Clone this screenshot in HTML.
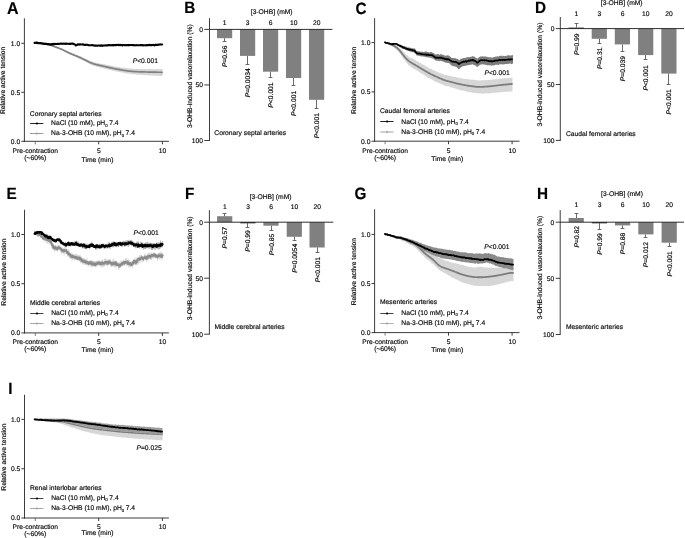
<!DOCTYPE html>
<html><head><meta charset="utf-8"><title>Figure</title>
<style>
html,body{margin:0;padding:0;background:#fff;}
body{width:685px;height:538px;overflow:hidden;}
svg{display:block;font-family:"Liberation Sans",sans-serif;text-rendering:geometricPrecision;will-change:transform;filter:blur(0.3px);}
text{stroke:#000;stroke-width:0.14px;}
text.r{stroke-width:0.16px;}
</style></head>
<body>
<svg width="685" height="538" viewBox="0 0 685 538">
<rect width="685" height="538" fill="#fff"/>
<path d="M34.60,42.99 L35.10,42.86 L35.60,42.96 L36.10,42.71 L36.60,42.98 L37.10,42.82 L37.60,42.91 L38.10,42.95 L38.60,42.82 L39.10,42.80 L39.60,43.05 L40.10,43.10 L40.60,43.14 L41.10,43.09 L41.60,43.20 L42.10,43.24 L42.60,43.17 L43.10,43.13 L43.60,43.49 L44.10,43.55 L44.60,43.54 L45.10,43.69 L45.60,43.71 L46.10,43.82 L46.60,43.73 L47.10,43.95 L47.60,43.89 L48.10,44.23 L48.60,44.12 L49.10,44.32 L49.60,44.57 L50.10,44.62 L50.60,44.84 L51.10,44.71 L51.60,44.91 L52.10,45.22 L52.60,45.38 L53.10,45.59 L53.60,45.76 L54.10,45.94 L54.60,45.84 L55.10,45.78 L55.60,46.47 L56.10,46.63 L56.60,46.78 L57.10,46.93 L57.60,46.88 L58.10,47.19 L58.60,47.40 L59.10,47.52 L59.60,47.76 L60.10,47.88 L60.60,48.11 L61.10,48.26 L61.60,48.67 L62.10,48.72 L62.60,49.10 L63.10,49.18 L63.60,49.37 L64.10,49.78 L64.60,49.94 L65.10,50.23 L65.60,50.46 L66.10,50.71 L66.60,50.82 L67.10,51.22 L67.60,51.33 L68.10,51.57 L68.60,51.74 L69.10,52.04 L69.60,52.29 L70.10,52.27 L70.60,52.65 L71.10,52.85 L71.60,53.02 L72.10,53.25 L72.60,53.40 L73.10,53.56 L73.60,53.78 L74.10,53.91 L74.60,54.09 L75.10,54.40 L75.60,54.50 L76.10,54.69 L76.60,54.94 L77.10,55.11 L77.60,55.33 L78.10,55.49 L78.60,55.75 L79.10,55.90 L79.60,56.06 L80.10,56.33 L80.60,56.26 L81.10,56.51 L81.60,56.72 L82.10,57.18 L82.60,57.50 L83.10,57.64 L83.60,57.94 L84.10,58.20 L84.60,58.34 L85.10,58.66 L85.60,58.73 L86.10,58.87 L86.60,59.23 L87.10,59.37 L87.60,59.79 L88.10,59.99 L88.60,60.01 L89.10,60.43 L89.60,60.74 L90.10,60.69 L90.60,61.09 L91.10,61.08 L91.60,61.41 L92.10,61.47 L92.60,61.88 L93.10,61.85 L93.60,62.09 L94.10,62.33 L94.60,62.33 L95.10,62.61 L95.60,62.66 L96.10,62.81 L96.60,62.67 L97.10,62.91 L97.60,63.12 L98.10,63.14 L98.60,63.25 L99.10,63.42 L99.60,63.42 L100.10,63.62 L100.60,63.67 L101.10,63.71 L101.60,63.92 L102.10,63.99 L102.60,64.02 L103.10,64.02 L103.60,64.16 L104.10,64.35 L104.60,64.34 L105.10,64.52 L105.60,64.49 L106.10,64.73 L106.60,64.74 L107.10,65.04 L107.60,64.95 L108.10,65.08 L108.60,65.28 L109.10,65.41 L109.60,65.37 L110.10,65.54 L110.60,65.71 L111.10,65.76 L111.60,65.85 L112.10,65.73 L112.60,65.90 L113.10,66.07 L113.60,66.11 L114.10,66.38 L114.60,66.46 L115.10,66.55 L115.60,66.65 L116.10,66.61 L116.60,66.55 L117.10,66.88 L117.60,66.96 L118.10,67.03 L118.60,67.01 L119.10,67.09 L119.60,67.10 L120.10,67.18 L120.60,67.41 L121.10,67.40 L121.60,67.48 L122.10,67.43 L122.60,67.66 L123.10,67.60 L123.60,67.72 L124.10,67.73 L124.60,67.97 L125.10,68.02 L125.60,68.11 L126.10,68.08 L126.60,68.21 L127.10,68.08 L127.60,68.28 L128.10,68.42 L128.60,68.33 L129.10,68.45 L129.60,68.44 L130.10,68.31 L130.60,68.44 L131.10,68.40 L131.60,68.63 L132.10,68.51 L132.60,68.69 L133.10,68.77 L133.60,68.74 L134.10,68.85 L134.60,68.72 L135.10,68.85 L135.60,68.90 L136.10,68.88 L136.60,68.79 L137.10,69.00 L137.60,68.97 L138.10,69.04 L138.60,68.82 L139.10,69.03 L139.60,68.89 L140.10,68.96 L140.60,68.94 L141.10,69.06 L141.60,68.97 L142.10,69.04 L142.60,69.09 L143.10,68.89 L143.60,69.07 L144.10,69.00 L144.60,69.10 L145.10,69.08 L145.60,68.99 L146.10,69.13 L146.60,68.94 L147.10,69.09 L147.60,69.02 L148.10,69.12 L148.60,69.08 L149.10,69.04 L149.60,69.04 L150.10,69.14 L150.60,69.11 L151.10,69.07 L151.60,69.03 L152.10,69.09 L152.60,69.16 L153.10,68.98 L153.60,69.20 L154.10,69.19 L154.60,69.19 L155.10,69.18 L155.60,69.09 L156.10,69.19 L156.60,69.13 L157.10,68.96 L157.60,69.03 L158.10,69.12 L158.60,69.15 L159.10,69.16 L159.60,69.17 L160.10,68.99 L160.60,69.10 L161.10,69.13 L161.60,69.12 L162.10,69.01 L162.60,69.16 L162.60,76.01 L162.10,75.92 L161.60,75.93 L161.10,75.89 L160.60,76.05 L160.10,75.92 L159.60,75.86 L159.10,75.98 L158.60,75.77 L158.10,75.78 L157.60,75.91 L157.10,75.72 L156.60,75.76 L156.10,75.74 L155.60,75.58 L155.10,75.58 L154.60,75.67 L154.10,75.64 L153.60,75.66 L153.10,75.54 L152.60,75.50 L152.10,75.52 L151.60,75.47 L151.10,75.54 L150.60,75.34 L150.10,75.34 L149.60,75.53 L149.10,75.39 L148.60,75.23 L148.10,75.38 L147.60,75.14 L147.10,75.12 L146.60,75.13 L146.10,75.30 L145.60,75.24 L145.10,75.21 L144.60,75.21 L144.10,74.98 L143.60,74.94 L143.10,75.08 L142.60,75.06 L142.10,74.84 L141.60,74.83 L141.10,74.95 L140.60,74.79 L140.10,74.70 L139.60,74.77 L139.10,74.76 L138.60,74.74 L138.10,74.61 L137.60,74.65 L137.10,74.76 L136.60,74.67 L136.10,74.59 L135.60,74.43 L135.10,74.36 L134.60,74.56 L134.10,74.41 L133.60,74.14 L133.10,74.45 L132.60,74.13 L132.10,73.98 L131.60,74.07 L131.10,73.89 L130.60,73.79 L130.10,74.06 L129.60,73.87 L129.10,73.70 L128.60,73.53 L128.10,73.48 L127.60,73.44 L127.10,73.45 L126.60,73.45 L126.10,73.49 L125.60,73.16 L125.10,73.16 L124.60,73.00 L124.10,72.88 L123.60,72.79 L123.10,72.74 L122.60,72.56 L122.10,72.43 L121.60,72.46 L121.10,72.44 L120.60,72.19 L120.10,72.03 L119.60,71.99 L119.10,71.94 L118.60,71.83 L118.10,71.77 L117.60,71.73 L117.10,71.52 L116.60,71.44 L116.10,71.28 L115.60,71.48 L115.10,71.09 L114.60,71.09 L114.10,70.84 L113.60,70.75 L113.10,70.83 L112.60,70.66 L112.10,70.38 L111.60,70.28 L111.10,70.14 L110.60,70.02 L110.10,69.86 L109.60,69.86 L109.10,69.82 L108.60,69.72 L108.10,69.66 L107.60,69.47 L107.10,69.33 L106.60,69.20 L106.10,68.98 L105.60,68.94 L105.10,68.75 L104.60,68.61 L104.10,68.47 L103.60,68.43 L103.10,68.20 L102.60,68.13 L102.10,68.14 L101.60,67.96 L101.10,67.84 L100.60,67.62 L100.10,67.60 L99.60,67.46 L99.10,67.33 L98.60,67.15 L98.10,67.12 L97.60,66.93 L97.10,66.77 L96.60,66.58 L96.10,66.43 L95.60,66.27 L95.10,66.10 L94.60,66.01 L94.10,65.95 L93.60,65.63 L93.10,65.62 L92.60,65.22 L92.10,65.13 L91.60,65.02 L91.10,64.63 L90.60,64.42 L90.10,64.15 L89.60,64.17 L89.10,63.71 L88.60,63.55 L88.10,63.27 L87.60,62.96 L87.10,62.60 L86.60,62.43 L86.10,62.19 L85.60,61.91 L85.10,61.55 L84.60,61.31 L84.10,61.03 L83.60,60.84 L83.10,60.59 L82.60,60.46 L82.10,59.96 L81.60,59.81 L81.10,59.71 L80.60,59.17 L80.10,58.95 L79.60,58.74 L79.10,58.55 L78.60,58.30 L78.10,58.05 L77.60,57.85 L77.10,57.70 L76.60,57.38 L76.10,57.31 L75.60,56.83 L75.10,56.66 L74.60,56.47 L74.10,56.33 L73.60,55.99 L73.10,55.84 L72.60,55.60 L72.10,55.32 L71.60,55.18 L71.10,54.91 L70.60,54.68 L70.10,54.45 L69.60,54.15 L69.10,54.01 L68.60,53.78 L68.10,53.48 L67.60,53.21 L67.10,53.05 L66.60,52.97 L66.10,52.37 L65.60,52.33 L65.10,51.95 L64.60,51.67 L64.10,51.32 L63.60,51.04 L63.10,50.85 L62.60,50.50 L62.10,50.26 L61.60,50.11 L61.10,49.85 L60.60,49.58 L60.10,49.36 L59.60,49.22 L59.10,48.90 L58.60,48.73 L58.10,48.80 L57.60,48.33 L57.10,48.12 L56.60,48.02 L56.10,47.70 L55.60,47.54 L55.10,47.31 L54.60,47.38 L54.10,47.02 L53.60,46.72 L53.10,46.53 L52.60,46.55 L52.10,46.16 L51.60,46.08 L51.10,46.13 L50.60,45.66 L50.10,45.62 L49.60,45.40 L49.10,45.27 L48.60,45.33 L48.10,44.99 L47.60,45.15 L47.10,45.00 L46.60,44.74 L46.10,44.64 L45.60,44.38 L45.10,44.36 L44.60,44.20 L44.10,44.14 L43.60,44.01 L43.10,43.98 L42.60,43.93 L42.10,44.00 L41.60,43.89 L41.10,43.64 L40.60,43.47 L40.10,43.57 L39.60,43.36 L39.10,43.29 L38.60,43.44 L38.10,43.24 L37.60,43.28 L37.10,43.11 L36.60,43.19 L36.10,43.09 L35.60,43.08 L35.10,43.17 L34.60,43.19Z" fill="#d6d6d6" stroke="none"/>
<polyline points="34.60,43.00 35.10,43.01 35.60,43.02 36.10,43.03 36.60,43.04 37.10,43.05 37.60,43.06 38.10,43.09 38.60,43.12 39.10,43.15 39.60,43.19 40.10,43.24 40.60,43.29 41.10,43.36 41.60,43.42 42.10,43.49 42.60,43.57 43.10,43.66 43.60,43.75 44.10,43.84 44.60,43.93 45.10,44.02 45.60,44.11 46.10,44.21 46.60,44.30 47.10,44.39 47.60,44.48 48.10,44.59 48.60,44.70 49.10,44.82 49.60,44.95 50.10,45.08 50.60,45.23 51.10,45.38 51.60,45.54 52.10,45.70 52.60,45.88 53.10,46.06 53.60,46.24 54.10,46.43 54.60,46.62 55.10,46.80 55.60,46.99 56.10,47.17 56.60,47.35 57.10,47.53 57.60,47.71 58.10,47.89 58.60,48.08 59.10,48.27 59.60,48.47 60.10,48.68 60.60,48.89 61.10,49.11 61.60,49.33 62.10,49.56 62.60,49.80 63.10,50.04 63.60,50.29 64.10,50.54 64.60,50.79 65.10,51.04 65.60,51.30 66.10,51.55 66.60,51.79 67.10,52.03 67.60,52.27 68.10,52.50 68.60,52.73 69.10,52.96 69.60,53.18 70.10,53.40 70.60,53.61 71.10,53.82 71.60,54.03 72.10,54.23 72.60,54.43 73.10,54.64 73.60,54.84 74.10,55.05 74.60,55.25 75.10,55.46 75.60,55.67 76.10,55.88 76.60,56.09 77.10,56.30 77.60,56.51 78.10,56.72 78.60,56.94 79.10,57.16 79.60,57.38 80.10,57.61 80.60,57.84 81.10,58.07 81.60,58.30 82.10,58.54 82.60,58.78 83.10,59.03 83.60,59.28 84.10,59.53 84.60,59.78 85.10,60.03 85.60,60.28 86.10,60.53 86.60,60.78 87.10,61.03 87.60,61.28 88.10,61.53 88.60,61.77 89.10,62.01 89.60,62.23 90.10,62.46 90.60,62.67 91.10,62.88 91.60,63.08 92.10,63.28 92.60,63.46 93.10,63.65 93.60,63.82 94.10,63.97 94.60,64.12 95.10,64.26 95.60,64.40 96.10,64.53 96.60,64.66 97.10,64.78 97.60,64.90 98.10,65.01 98.60,65.13 99.10,65.24 99.60,65.34 100.10,65.45 100.60,65.57 101.10,65.68 101.60,65.79 102.10,65.91 102.60,66.02 103.10,66.14 103.60,66.26 104.10,66.37 104.60,66.49 105.10,66.60 105.60,66.71 106.10,66.82 106.60,66.93 107.10,67.04 107.60,67.15 108.10,67.26 108.60,67.37 109.10,67.47 109.60,67.58 110.10,67.69 110.60,67.80 111.10,67.91 111.60,68.03 112.10,68.14 112.60,68.25 113.10,68.36 113.60,68.46 114.10,68.57 114.60,68.67 115.10,68.77 115.60,68.87 116.10,68.96 116.60,69.05 117.10,69.14 117.60,69.23 118.10,69.32 118.60,69.40 119.10,69.49 119.60,69.58 120.10,69.67 120.60,69.76 121.10,69.85 121.60,69.94 122.10,70.04 122.60,70.13 123.10,70.22 123.60,70.31 124.10,70.39 124.60,70.48 125.10,70.56 125.60,70.63 126.10,70.71 126.60,70.78 127.10,70.85 127.60,70.92 128.10,70.98 128.60,71.04 129.10,71.09 129.60,71.15 130.10,71.20 130.60,71.25 131.10,71.29 131.60,71.34 132.10,71.38 132.60,71.42 133.10,71.46 133.60,71.50 134.10,71.53 134.60,71.57 135.10,71.60 135.60,71.63 136.10,71.66 136.60,71.69 137.10,71.72 137.60,71.75 138.10,71.77 138.60,71.79 139.10,71.81 139.60,71.83 140.10,71.85 140.60,71.86 141.10,71.88 141.60,71.89 142.10,71.90 142.60,71.91 143.10,71.93 143.60,71.94 144.10,71.95 144.60,71.96 145.10,71.98 145.60,71.99 146.10,72.00 146.60,72.01 147.10,72.02 147.60,72.03 148.10,72.05 148.60,72.06 149.10,72.07 149.60,72.08 150.10,72.09 150.60,72.10 151.10,72.11 151.60,72.12 152.10,72.14 152.60,72.15 153.10,72.16 153.60,72.17 154.10,72.18 154.60,72.19 155.10,72.19 155.60,72.20 156.10,72.21 156.60,72.22 157.10,72.23 157.60,72.24 158.10,72.24 158.60,72.25 159.10,72.26 159.60,72.26 160.10,72.27 160.60,72.28 161.10,72.28 161.60,72.29 162.10,72.30" fill="none" stroke="#808080" stroke-width="1.7" stroke-linejoin="round" stroke-linecap="round" />
<polyline points="34.60,42.86 35.10,42.84 35.60,43.04 36.10,42.66 36.60,42.90 37.10,42.64 37.60,43.09 38.10,43.03 38.60,43.21 39.10,43.04 39.60,43.19 40.10,43.16 40.60,43.16 41.10,43.33 41.60,43.22 42.10,43.39 42.60,43.58 43.10,43.57 43.60,43.58 44.10,43.95 44.60,43.76 45.10,43.74 45.60,43.87 46.10,43.84 46.60,43.90 47.10,43.95 47.60,44.28 48.10,44.09 48.60,44.15 49.10,44.26 49.60,44.47 50.10,44.25 50.60,44.21 51.10,44.55 51.60,44.05 52.10,44.15 52.60,44.24 53.10,44.40 53.60,43.98 54.10,43.77 54.60,44.11 55.10,43.93 55.60,43.92 56.10,44.00 56.60,43.94 57.10,43.92 57.60,43.81 58.10,43.99 58.60,43.99 59.10,43.79 59.60,43.70 60.10,43.82 60.60,43.76 61.10,43.58 61.60,43.64 62.10,43.83 62.60,43.69 63.10,43.66 63.60,43.73 64.10,43.70 64.60,43.70 65.10,43.47 65.60,43.91 66.10,43.72 66.60,43.59 67.10,43.82 67.60,43.74 68.10,43.70 68.60,43.83 69.10,43.97 69.60,43.77 70.10,43.89 70.60,43.96 71.10,43.58 71.60,43.64 72.10,43.79 72.60,43.50 73.10,43.73 73.60,44.07 74.10,44.20 74.60,44.35 75.10,44.45 75.60,45.36 76.10,45.41 76.60,45.17 77.10,44.87 77.60,44.39 78.10,44.39 78.60,44.39 79.10,44.74 79.60,44.38 80.10,44.43 80.60,44.40 81.10,44.47 81.60,44.50 82.10,44.52 82.60,44.38 83.10,44.20 83.60,44.64 84.10,44.70 84.60,44.86 85.10,44.74 85.60,44.72 86.10,44.89 86.60,44.70 87.10,44.80 87.60,44.85 88.10,45.05 88.60,45.31 89.10,45.20 89.60,45.29 90.10,45.22 90.60,45.27 91.10,45.23 91.60,45.28 92.10,45.05 92.60,45.22 93.10,45.23 93.60,45.51 94.10,45.51 94.60,45.59 95.10,45.66 95.60,45.46 96.10,45.65 96.60,45.78 97.10,45.57 97.60,45.72 98.10,45.59 98.60,45.44 99.10,45.67 99.60,45.58 100.10,45.71 100.60,45.62 101.10,45.69 101.60,45.37 102.10,45.85 102.60,45.74 103.10,45.52 103.60,45.43 104.10,45.51 104.60,45.57 105.10,45.52 105.60,45.49 106.10,45.18 106.60,45.26 107.10,45.54 107.60,45.38 108.10,45.15 108.60,45.20 109.10,45.11 109.60,45.14 110.10,45.38 110.60,45.19 111.10,45.33 111.60,45.19 112.10,44.96 112.60,45.04 113.10,45.38 113.60,44.98 114.10,44.93 114.60,45.18 115.10,45.02 115.60,45.00 116.10,45.19 116.60,44.80 117.10,45.07 117.60,44.90 118.10,44.86 118.60,44.94 119.10,45.19 119.60,45.04 120.10,44.84 120.60,44.93 121.10,45.26 121.60,45.21 122.10,44.95 122.60,45.39 123.10,45.06 123.60,44.96 124.10,45.10 124.60,45.24 125.10,45.32 125.60,45.26 126.10,45.09 126.60,45.08 127.10,44.97 127.60,45.15 128.10,45.09 128.60,45.20 129.10,45.02 129.60,45.12 130.10,45.08 130.60,45.05 131.10,45.05 131.60,45.07 132.10,45.05 132.60,45.27 133.10,45.21 133.60,45.04 134.10,45.26 134.60,45.24 135.10,45.38 135.60,45.18 136.10,45.17 136.60,45.12 137.10,45.22 137.60,45.26 138.10,45.22 138.60,45.17 139.10,45.27 139.60,45.21 140.10,45.23 140.60,45.09 141.10,45.23 141.60,45.08 142.10,45.10 142.60,45.22 143.10,45.46 143.60,45.32 144.10,45.20 144.60,45.18 145.10,45.32 145.60,45.37 146.10,45.35 146.60,45.16 147.10,45.20 147.60,45.12 148.10,45.12 148.60,45.04 149.10,45.10 149.60,44.86 150.10,44.96 150.60,45.15 151.10,44.97 151.60,45.14 152.10,44.91 152.60,45.01 153.10,45.09 153.60,44.90 154.10,44.93 154.60,45.31 155.10,44.91 155.60,44.86 156.10,44.84 156.60,44.87 157.10,44.82 157.60,44.91 158.10,44.84 158.60,44.65 159.10,44.62 159.60,44.45 160.10,44.40 160.60,44.45 161.10,44.59 161.60,44.47 162.10,44.51" fill="none" stroke="#000" stroke-width="2.1" stroke-linejoin="round" stroke-linecap="round" />
<path d="M385.00,42.42 L385.50,42.51 L386.00,42.37 L386.50,42.39 L387.00,42.49 L387.50,42.76 L388.00,42.47 L388.50,42.93 L389.00,42.67 L389.50,43.02 L390.00,43.31 L390.50,43.36 L391.00,43.55 L391.50,43.57 L392.00,43.74 L392.50,43.86 L393.00,44.09 L393.50,44.17 L394.00,44.41 L394.50,44.59 L395.00,44.73 L395.50,45.07 L396.00,45.43 L396.50,45.12 L397.00,45.99 L397.50,46.21 L398.00,46.28 L398.50,46.91 L399.00,47.09 L399.50,47.94 L400.00,48.27 L400.50,48.82 L401.00,49.19 L401.50,49.64 L402.00,50.12 L402.50,50.67 L403.00,51.07 L403.50,52.06 L404.00,52.36 L404.50,52.88 L405.00,53.64 L405.50,53.74 L406.00,54.54 L406.50,54.68 L407.00,55.29 L407.50,55.38 L408.00,56.09 L408.50,56.63 L409.00,56.61 L409.50,57.14 L410.00,57.50 L410.50,57.83 L411.00,57.92 L411.50,58.04 L412.00,58.31 L412.50,58.35 L413.00,58.58 L413.50,59.23 L414.00,59.14 L414.50,59.47 L415.00,59.89 L415.50,60.08 L416.00,60.60 L416.50,60.95 L417.00,61.23 L417.50,61.40 L418.00,61.64 L418.50,61.56 L419.00,62.32 L419.50,62.74 L420.00,62.94 L420.50,62.79 L421.00,63.29 L421.50,63.81 L422.00,64.09 L422.50,64.44 L423.00,64.09 L423.50,64.95 L424.00,65.34 L424.50,64.88 L425.00,65.69 L425.50,66.27 L426.00,66.32 L426.50,66.36 L427.00,67.06 L427.50,67.12 L428.00,67.39 L428.50,67.79 L429.00,68.21 L429.50,68.48 L430.00,68.55 L430.50,69.02 L431.00,68.98 L431.50,68.72 L432.00,69.51 L432.50,69.98 L433.00,70.18 L433.50,70.02 L434.00,70.52 L434.50,70.61 L435.00,70.76 L435.50,70.92 L436.00,71.58 L436.50,71.57 L437.00,71.75 L437.50,71.94 L438.00,71.87 L438.50,72.65 L439.00,72.78 L439.50,72.67 L440.00,72.99 L440.50,73.12 L441.00,73.55 L441.50,73.94 L442.00,73.73 L442.50,73.65 L443.00,73.95 L443.50,74.57 L444.00,74.81 L444.50,74.93 L445.00,75.06 L445.50,74.75 L446.00,75.12 L446.50,74.86 L447.00,74.94 L447.50,75.26 L448.00,75.67 L448.50,75.64 L449.00,75.36 L449.50,75.84 L450.00,76.05 L450.50,76.05 L451.00,75.84 L451.50,76.16 L452.00,76.58 L452.50,76.66 L453.00,76.37 L453.50,76.69 L454.00,76.83 L454.50,76.76 L455.00,76.98 L455.50,76.74 L456.00,77.37 L456.50,77.45 L457.00,77.10 L457.50,77.79 L458.00,77.74 L458.50,77.86 L459.00,77.75 L459.50,78.11 L460.00,78.06 L460.50,78.32 L461.00,77.91 L461.50,78.43 L462.00,78.38 L462.50,78.17 L463.00,78.65 L463.50,78.63 L464.00,78.90 L464.50,79.05 L465.00,78.84 L465.50,78.95 L466.00,79.04 L466.50,78.56 L467.00,79.24 L467.50,79.31 L468.00,79.06 L468.50,79.61 L469.00,79.11 L469.50,79.65 L470.00,79.41 L470.50,79.44 L471.00,79.83 L471.50,79.85 L472.00,79.39 L472.50,79.72 L473.00,79.61 L473.50,79.63 L474.00,79.97 L474.50,79.63 L475.00,80.31 L475.50,80.16 L476.00,80.28 L476.50,80.25 L477.00,80.37 L477.50,80.47 L478.00,80.31 L478.50,80.49 L479.00,80.54 L479.50,80.51 L480.00,80.43 L480.50,80.42 L481.00,80.41 L481.50,79.96 L482.00,80.23 L482.50,80.16 L483.00,80.14 L483.50,80.31 L484.00,80.17 L484.50,80.23 L485.00,79.90 L485.50,80.32 L486.00,79.80 L486.50,79.96 L487.00,80.19 L487.50,80.11 L488.00,79.99 L488.50,80.07 L489.00,79.72 L489.50,80.02 L490.00,79.90 L490.50,79.67 L491.00,79.56 L491.50,79.76 L492.00,79.58 L492.50,79.50 L493.00,79.64 L493.50,79.57 L494.00,79.27 L494.50,79.52 L495.00,79.34 L495.50,79.20 L496.00,79.18 L496.50,79.22 L497.00,78.68 L497.50,78.85 L498.00,79.06 L498.50,78.83 L499.00,78.44 L499.50,78.76 L500.00,78.35 L500.50,78.66 L501.00,78.79 L501.50,78.56 L502.00,78.25 L502.50,78.26 L503.00,78.29 L503.50,78.54 L504.00,78.37 L504.50,78.10 L505.00,78.37 L505.50,78.37 L506.00,78.14 L506.50,78.28 L507.00,78.21 L507.50,77.92 L508.00,77.72 L508.50,78.09 L509.00,78.01 L509.50,77.91 L510.00,77.99 L510.50,77.92 L511.00,77.70 L511.50,77.66 L512.00,77.72 L512.50,77.50 L512.50,91.27 L512.00,91.45 L511.50,91.66 L511.00,91.38 L510.50,91.34 L510.00,91.61 L509.50,91.57 L509.00,91.51 L508.50,91.87 L508.00,91.55 L507.50,91.53 L507.00,92.37 L506.50,91.78 L506.00,91.72 L505.50,91.88 L505.00,91.77 L504.50,91.72 L504.00,92.22 L503.50,91.78 L503.00,92.14 L502.50,92.00 L502.00,92.24 L501.50,92.14 L501.00,92.04 L500.50,92.43 L500.00,92.37 L499.50,92.62 L499.00,92.15 L498.50,92.46 L498.00,92.77 L497.50,92.54 L497.00,92.47 L496.50,92.79 L496.00,92.43 L495.50,92.64 L495.00,93.12 L494.50,93.00 L494.00,92.80 L493.50,92.86 L493.00,92.72 L492.50,92.91 L492.00,92.80 L491.50,93.18 L491.00,92.93 L490.50,92.92 L490.00,93.21 L489.50,93.76 L489.00,93.08 L488.50,93.81 L488.00,93.34 L487.50,93.42 L487.00,93.34 L486.50,93.46 L486.00,93.45 L485.50,93.35 L485.00,93.40 L484.50,93.26 L484.00,93.38 L483.50,93.65 L483.00,93.73 L482.50,94.06 L482.00,93.51 L481.50,93.32 L481.00,93.60 L480.50,93.36 L480.00,93.61 L479.50,93.66 L479.00,93.31 L478.50,93.28 L478.00,93.20 L477.50,93.40 L477.00,93.33 L476.50,93.09 L476.00,93.08 L475.50,92.92 L475.00,92.96 L474.50,92.94 L474.00,92.70 L473.50,92.78 L473.00,92.74 L472.50,92.76 L472.00,92.58 L471.50,92.47 L471.00,92.14 L470.50,92.19 L470.00,92.44 L469.50,92.02 L469.00,92.02 L468.50,91.77 L468.00,91.64 L467.50,91.55 L467.00,92.08 L466.50,91.53 L466.00,91.33 L465.50,91.00 L465.00,90.96 L464.50,90.80 L464.00,90.87 L463.50,90.53 L463.00,90.65 L462.50,90.30 L462.00,90.35 L461.50,90.75 L461.00,90.43 L460.50,89.92 L460.00,90.05 L459.50,90.16 L459.00,89.61 L458.50,89.38 L458.00,89.38 L457.50,89.16 L457.00,89.14 L456.50,88.82 L456.00,89.17 L455.50,88.54 L455.00,88.40 L454.50,88.17 L454.00,88.21 L453.50,87.98 L453.00,87.84 L452.50,87.83 L452.00,87.55 L451.50,87.39 L451.00,87.17 L450.50,87.16 L450.00,87.06 L449.50,86.84 L449.00,86.41 L448.50,86.35 L448.00,86.17 L447.50,86.04 L447.00,86.23 L446.50,86.10 L446.00,85.89 L445.50,85.97 L445.00,85.64 L444.50,85.57 L444.00,85.25 L443.50,85.00 L443.00,84.87 L442.50,84.54 L442.00,84.30 L441.50,84.04 L441.00,84.08 L440.50,83.59 L440.00,83.75 L439.50,83.37 L439.00,82.96 L438.50,82.78 L438.00,82.78 L437.50,82.18 L437.00,82.36 L436.50,82.13 L436.00,81.76 L435.50,81.47 L435.00,81.17 L434.50,81.15 L434.00,80.76 L433.50,80.69 L433.00,80.18 L432.50,79.96 L432.00,79.57 L431.50,79.58 L431.00,79.06 L430.50,79.16 L430.00,78.48 L429.50,78.21 L429.00,78.24 L428.50,78.04 L428.00,77.74 L427.50,77.81 L427.00,76.90 L426.50,76.51 L426.00,76.54 L425.50,76.07 L425.00,75.83 L424.50,75.32 L424.00,74.88 L423.50,74.58 L423.00,74.34 L422.50,74.08 L422.00,73.81 L421.50,73.37 L421.00,73.06 L420.50,73.45 L420.00,72.48 L419.50,72.33 L419.00,71.86 L418.50,71.53 L418.00,71.30 L417.50,70.82 L417.00,70.59 L416.50,70.38 L416.00,69.94 L415.50,69.85 L415.00,69.48 L414.50,69.37 L414.00,69.00 L413.50,68.49 L413.00,68.14 L412.50,67.89 L412.00,67.70 L411.50,67.07 L411.00,66.82 L410.50,66.65 L410.00,66.10 L409.50,65.53 L409.00,65.54 L408.50,64.91 L408.00,64.67 L407.50,63.82 L407.00,63.26 L406.50,62.92 L406.00,62.12 L405.50,61.53 L405.00,60.84 L404.50,60.05 L404.00,59.59 L403.50,58.79 L403.00,58.59 L402.50,57.27 L402.00,56.43 L401.50,56.23 L401.00,55.04 L400.50,54.54 L400.00,53.63 L399.50,53.16 L399.00,52.23 L398.50,51.79 L398.00,51.17 L397.50,50.38 L397.00,50.07 L396.50,49.42 L396.00,49.24 L395.50,48.84 L395.00,48.05 L394.50,47.97 L394.00,47.53 L393.50,46.98 L393.00,46.63 L392.50,46.52 L392.00,46.37 L391.50,46.24 L391.00,45.56 L390.50,45.36 L390.00,44.92 L389.50,44.78 L389.00,44.90 L388.50,44.28 L388.00,44.13 L387.50,43.68 L387.00,43.47 L386.50,43.30 L386.00,43.01 L385.50,42.82 L385.00,42.65Z" fill="#d6d6d6" stroke="none"/>
<polyline points="385.00,42.50 385.50,42.65 386.00,42.80 386.50,42.95 387.00,43.10 387.50,43.25 388.00,43.42 388.50,43.60 389.00,43.78 389.50,43.96 390.00,44.15 390.50,44.35 391.00,44.54 391.50,44.75 392.00,44.96 392.50,45.17 393.00,45.39 393.50,45.63 394.00,45.89 394.50,46.18 395.00,46.48 395.50,46.80 396.00,47.14 396.50,47.52 397.00,47.93 397.50,48.36 398.00,48.82 398.50,49.31 399.00,49.82 399.50,50.37 400.00,50.95 400.50,51.56 401.00,52.18 401.50,52.82 402.00,53.46 402.50,54.10 403.00,54.74 403.50,55.37 404.00,55.99 404.50,56.61 405.00,57.21 405.50,57.79 406.00,58.34 406.50,58.87 407.00,59.37 407.50,59.85 408.00,60.29 408.50,60.71 409.00,61.11 409.50,61.48 410.00,61.84 410.50,62.19 411.00,62.52 411.50,62.83 412.00,63.13 412.50,63.41 413.00,63.70 413.50,63.98 414.00,64.27 414.50,64.56 415.00,64.85 415.50,65.14 416.00,65.44 416.50,65.73 417.00,66.03 417.50,66.32 418.00,66.62 418.50,66.92 419.00,67.22 419.50,67.52 420.00,67.82 420.50,68.12 421.00,68.42 421.50,68.72 422.00,69.02 422.50,69.32 423.00,69.62 423.50,69.92 424.00,70.22 424.50,70.52 425.00,70.82 425.50,71.12 426.00,71.42 426.50,71.72 427.00,72.01 427.50,72.30 428.00,72.58 428.50,72.86 429.00,73.13 429.50,73.40 430.00,73.67 430.50,73.93 431.00,74.19 431.50,74.44 432.00,74.68 432.50,74.93 433.00,75.16 433.50,75.40 434.00,75.63 434.50,75.85 435.00,76.08 435.50,76.30 436.00,76.53 436.50,76.75 437.00,76.98 437.50,77.20 438.00,77.43 438.50,77.65 439.00,77.87 439.50,78.10 440.00,78.32 440.50,78.55 441.00,78.78 441.50,79.00 442.00,79.22 442.50,79.43 443.00,79.63 443.50,79.82 444.00,80.00 444.50,80.17 445.00,80.33 445.50,80.48 446.00,80.63 446.50,80.77 447.00,80.91 447.50,81.04 448.00,81.16 448.50,81.28 449.00,81.40 449.50,81.52 450.00,81.64 450.50,81.77 451.00,81.90 451.50,82.04 452.00,82.18 452.50,82.32 453.00,82.47 453.50,82.61 454.00,82.75 454.50,82.89 455.00,83.02 455.50,83.15 456.00,83.28 456.50,83.40 457.00,83.52 457.50,83.64 458.00,83.75 458.50,83.86 459.00,83.96 459.50,84.07 460.00,84.17 460.50,84.26 461.00,84.36 461.50,84.46 462.00,84.56 462.50,84.66 463.00,84.76 463.50,84.85 464.00,84.95 464.50,85.05 465.00,85.14 465.50,85.23 466.00,85.32 466.50,85.41 467.00,85.49 467.50,85.58 468.00,85.66 468.50,85.74 469.00,85.81 469.50,85.89 470.00,85.96 470.50,86.03 471.00,86.10 471.50,86.17 472.00,86.24 472.50,86.30 473.00,86.37 473.50,86.44 474.00,86.51 474.50,86.57 475.00,86.64 475.50,86.70 476.00,86.75 476.50,86.80 477.00,86.84 477.50,86.87 478.00,86.90 478.50,86.92 479.00,86.93 479.50,86.94 480.00,86.94 480.50,86.93 481.00,86.92 481.50,86.90 482.00,86.88 482.50,86.84 483.00,86.81 483.50,86.78 484.00,86.75 484.50,86.72 485.00,86.69 485.50,86.66 486.00,86.62 486.50,86.59 487.00,86.56 487.50,86.52 488.00,86.48 488.50,86.44 489.00,86.40 489.50,86.35 490.00,86.30 490.50,86.25 491.00,86.20 491.50,86.15 492.00,86.09 492.50,86.03 493.00,85.97 493.50,85.91 494.00,85.85 494.50,85.78 495.00,85.72 495.50,85.66 496.00,85.59 496.50,85.53 497.00,85.47 497.50,85.40 498.00,85.34 498.50,85.28 499.00,85.22 499.50,85.17 500.00,85.11 500.50,85.05 501.00,85.00 501.50,84.94 502.00,84.89 502.50,84.84 503.00,84.79 503.50,84.74 504.00,84.69 504.50,84.64 505.00,84.60 505.50,84.55 506.00,84.50 506.50,84.45 507.00,84.41 507.50,84.36 508.00,84.31 508.50,84.27 509.00,84.22 509.50,84.17 510.00,84.13 510.50,84.08 511.00,84.03 511.50,83.98 512.00,83.94" fill="none" stroke="#7d7d7d" stroke-width="1.8" stroke-linejoin="round" stroke-linecap="round" />
<path d="M385.00,42.17 L385.50,42.13 L386.00,42.26 L386.50,42.64 L387.00,42.39 L387.50,42.60 L388.00,42.91 L388.50,43.09 L389.00,43.21 L389.50,42.52 L390.00,42.91 L390.50,43.08 L391.00,43.38 L391.50,43.35 L392.00,43.45 L392.50,43.52 L393.00,43.40 L393.50,43.26 L394.00,43.37 L394.50,43.14 L395.00,43.04 L395.50,43.22 L396.00,43.19 L396.50,42.65 L397.00,43.45 L397.50,43.38 L398.00,43.90 L398.50,43.55 L399.00,44.32 L399.50,44.71 L400.00,44.80 L400.50,44.49 L401.00,44.93 L401.50,45.37 L402.00,45.58 L402.50,45.70 L403.00,45.82 L403.50,46.19 L404.00,46.08 L404.50,46.36 L405.00,46.72 L405.50,46.51 L406.00,46.76 L406.50,46.42 L407.00,47.37 L407.50,47.51 L408.00,47.53 L408.50,47.53 L409.00,47.47 L409.50,47.46 L410.00,47.42 L410.50,47.95 L411.00,48.11 L411.50,48.22 L412.00,48.22 L412.50,48.13 L413.00,48.27 L413.50,48.48 L414.00,48.63 L414.50,48.07 L415.00,48.78 L415.50,49.32 L416.00,50.28 L416.50,50.93 L417.00,50.72 L417.50,51.35 L418.00,51.35 L418.50,51.20 L419.00,51.60 L419.50,51.17 L420.00,51.72 L420.50,51.63 L421.00,51.71 L421.50,51.58 L422.00,51.83 L422.50,51.75 L423.00,51.91 L423.50,52.00 L424.00,51.87 L424.50,51.70 L425.00,52.00 L425.50,51.35 L426.00,51.41 L426.50,51.17 L427.00,51.94 L427.50,51.88 L428.00,52.23 L428.50,52.09 L429.00,52.22 L429.50,52.40 L430.00,52.33 L430.50,51.98 L431.00,52.06 L431.50,52.03 L432.00,52.49 L432.50,52.59 L433.00,52.95 L433.50,52.97 L434.00,53.57 L434.50,53.87 L435.00,54.26 L435.50,54.49 L436.00,54.49 L436.50,54.30 L437.00,54.56 L437.50,53.98 L438.00,54.01 L438.50,54.14 L439.00,54.52 L439.50,54.68 L440.00,54.64 L440.50,54.57 L441.00,53.79 L441.50,54.32 L442.00,54.44 L442.50,54.66 L443.00,55.11 L443.50,55.04 L444.00,54.63 L444.50,55.39 L445.00,55.65 L445.50,55.72 L446.00,55.57 L446.50,55.54 L447.00,55.64 L447.50,55.27 L448.00,55.25 L448.50,55.39 L449.00,55.84 L449.50,56.23 L450.00,56.43 L450.50,56.80 L451.00,57.41 L451.50,57.95 L452.00,57.86 L452.50,58.03 L453.00,58.02 L453.50,58.09 L454.00,58.13 L454.50,58.26 L455.00,58.17 L455.50,57.98 L456.00,58.41 L456.50,58.73 L457.00,58.80 L457.50,59.02 L458.00,59.12 L458.50,59.87 L459.00,60.23 L459.50,60.03 L460.00,59.65 L460.50,58.69 L461.00,58.98 L461.50,58.78 L462.00,58.17 L462.50,58.38 L463.00,58.17 L463.50,58.04 L464.00,58.12 L464.50,58.05 L465.00,57.90 L465.50,57.70 L466.00,57.38 L466.50,57.42 L467.00,57.36 L467.50,57.12 L468.00,57.48 L468.50,56.90 L469.00,57.26 L469.50,57.19 L470.00,56.74 L470.50,56.91 L471.00,56.65 L471.50,56.70 L472.00,56.51 L472.50,55.84 L473.00,56.48 L473.50,56.63 L474.00,56.26 L474.50,56.73 L475.00,57.35 L475.50,57.74 L476.00,57.77 L476.50,58.21 L477.00,58.25 L477.50,58.82 L478.00,58.23 L478.50,58.06 L479.00,57.07 L479.50,56.95 L480.00,57.02 L480.50,56.37 L481.00,56.59 L481.50,56.44 L482.00,56.27 L482.50,56.18 L483.00,56.51 L483.50,56.54 L484.00,56.61 L484.50,56.54 L485.00,56.60 L485.50,56.28 L486.00,56.73 L486.50,56.80 L487.00,56.73 L487.50,57.06 L488.00,56.94 L488.50,57.20 L489.00,56.96 L489.50,57.44 L490.00,57.22 L490.50,57.37 L491.00,57.28 L491.50,57.49 L492.00,57.74 L492.50,57.49 L493.00,57.47 L493.50,57.25 L494.00,57.06 L494.50,57.07 L495.00,56.79 L495.50,56.51 L496.00,56.95 L496.50,56.25 L497.00,56.76 L497.50,56.27 L498.00,56.23 L498.50,56.43 L499.00,56.16 L499.50,55.84 L500.00,56.11 L500.50,56.12 L501.00,55.61 L501.50,55.40 L502.00,56.15 L502.50,56.13 L503.00,55.69 L503.50,55.66 L504.00,55.99 L504.50,56.15 L505.00,56.05 L505.50,55.81 L506.00,55.92 L506.50,55.71 L507.00,55.81 L507.50,55.61 L508.00,55.28 L508.50,55.02 L509.00,55.62 L509.50,55.50 L510.00,55.56 L510.50,55.48 L511.00,55.37 L511.50,55.45 L512.00,55.26 L512.50,54.99 L513.00,55.14 L513.00,63.75 L512.50,63.39 L512.00,64.00 L511.50,64.30 L511.00,63.65 L510.50,63.58 L510.00,63.53 L509.50,63.62 L509.00,63.64 L508.50,63.80 L508.00,64.24 L507.50,63.79 L507.00,64.08 L506.50,64.34 L506.00,63.95 L505.50,64.01 L505.00,63.96 L504.50,64.21 L504.00,64.44 L503.50,64.41 L503.00,64.11 L502.50,64.62 L502.00,64.39 L501.50,64.25 L501.00,64.14 L500.50,64.30 L500.00,64.55 L499.50,64.26 L499.00,64.46 L498.50,65.16 L498.00,64.67 L497.50,64.67 L497.00,64.86 L496.50,64.69 L496.00,64.77 L495.50,64.87 L495.00,65.08 L494.50,65.19 L494.00,65.18 L493.50,65.59 L493.00,65.47 L492.50,65.37 L492.00,65.48 L491.50,66.05 L491.00,65.49 L490.50,65.28 L490.00,65.28 L489.50,65.58 L489.00,65.11 L488.50,65.06 L488.00,65.48 L487.50,65.17 L487.00,64.79 L486.50,64.91 L486.00,65.31 L485.50,64.82 L485.00,64.80 L484.50,64.47 L484.00,64.48 L483.50,64.27 L483.00,64.56 L482.50,64.20 L482.00,64.28 L481.50,64.42 L481.00,64.50 L480.50,64.84 L480.00,64.85 L479.50,65.16 L479.00,65.60 L478.50,65.89 L478.00,66.64 L477.50,66.83 L477.00,67.04 L476.50,66.30 L476.00,65.92 L475.50,65.75 L475.00,65.03 L474.50,65.00 L474.00,65.61 L473.50,64.65 L473.00,64.30 L472.50,64.30 L472.00,64.38 L471.50,64.44 L471.00,64.96 L470.50,64.54 L470.00,64.87 L469.50,65.03 L469.00,65.12 L468.50,65.07 L468.00,65.20 L467.50,65.43 L467.00,65.60 L466.50,65.35 L466.00,65.43 L465.50,65.82 L465.00,66.02 L464.50,65.99 L464.00,65.99 L463.50,66.26 L463.00,66.22 L462.50,66.33 L462.00,67.17 L461.50,66.70 L461.00,67.16 L460.50,67.71 L460.00,68.23 L459.50,69.03 L459.00,69.31 L458.50,69.57 L458.00,68.58 L457.50,67.97 L457.00,67.47 L456.50,67.10 L456.00,67.12 L455.50,66.44 L455.00,66.39 L454.50,66.22 L454.00,66.45 L453.50,66.21 L453.00,65.90 L452.50,65.69 L452.00,65.78 L451.50,65.61 L451.00,64.86 L450.50,64.77 L450.00,63.97 L449.50,63.46 L449.00,62.82 L448.50,63.25 L448.00,63.09 L447.50,62.63 L447.00,63.05 L446.50,62.47 L446.00,62.43 L445.50,62.88 L445.00,62.23 L444.50,61.95 L444.00,62.05 L443.50,61.58 L443.00,61.64 L442.50,61.54 L442.00,61.08 L441.50,61.22 L441.00,61.08 L440.50,60.81 L440.00,60.90 L439.50,61.25 L439.00,60.83 L438.50,60.66 L438.00,61.09 L437.50,60.60 L437.00,61.06 L436.50,60.61 L436.00,60.56 L435.50,60.44 L435.00,60.05 L434.50,59.60 L434.00,59.42 L433.50,58.98 L433.00,58.36 L432.50,58.38 L432.00,58.40 L431.50,58.19 L431.00,57.76 L430.50,57.56 L430.00,57.82 L429.50,57.54 L429.00,57.84 L428.50,57.57 L428.00,57.23 L427.50,57.15 L427.00,57.29 L426.50,57.14 L426.00,57.05 L425.50,56.89 L425.00,56.86 L424.50,56.76 L424.00,56.57 L423.50,56.71 L423.00,56.48 L422.50,56.33 L422.00,56.27 L421.50,56.39 L421.00,56.61 L420.50,56.08 L420.00,56.19 L419.50,55.91 L419.00,55.77 L418.50,55.78 L418.00,55.52 L417.50,55.50 L417.00,55.83 L416.50,55.14 L416.00,54.16 L415.50,53.53 L415.00,53.57 L414.50,52.88 L414.00,52.57 L413.50,52.29 L413.00,52.21 L412.50,52.03 L412.00,52.61 L411.50,51.95 L411.00,51.72 L410.50,51.73 L410.00,51.32 L409.50,51.46 L409.00,51.21 L408.50,50.93 L408.00,50.78 L407.50,50.77 L407.00,50.26 L406.50,50.58 L406.00,49.95 L405.50,50.09 L405.00,49.42 L404.50,49.45 L404.00,48.89 L403.50,49.04 L403.00,49.15 L402.50,48.08 L402.00,48.97 L401.50,47.72 L401.00,47.50 L400.50,47.66 L400.00,46.96 L399.50,46.73 L399.00,46.54 L398.50,46.02 L398.00,45.66 L397.50,45.51 L397.00,44.97 L396.50,45.05 L396.00,44.77 L395.50,44.73 L395.00,44.65 L394.50,44.85 L394.00,44.62 L393.50,45.20 L393.00,45.11 L392.50,44.69 L392.00,44.49 L391.50,44.89 L391.00,44.51 L390.50,44.56 L390.00,44.34 L389.50,43.89 L389.00,43.87 L388.50,43.74 L388.00,43.75 L387.50,43.32 L387.00,43.25 L386.50,43.03 L386.00,42.81 L385.50,43.18 L385.00,42.58Z" fill="#7c7c7c" stroke="none"/>
<polyline points="385.00,42.32 385.50,42.67 386.00,42.88 386.50,42.77 387.00,42.77 387.50,43.07 388.00,43.27 388.50,43.49 389.00,43.28 389.50,43.39 390.00,43.82 390.50,43.92 391.00,44.20 391.50,44.15 392.00,43.98 392.50,43.96 393.00,44.39 393.50,43.96 394.00,43.88 394.50,43.83 395.00,44.01 395.50,44.02 396.00,43.95 396.50,43.99 397.00,44.24 397.50,44.63 398.00,45.01 398.50,45.21 399.00,45.23 399.50,45.82 400.00,45.71 400.50,46.11 401.00,46.13 401.50,46.56 402.00,46.66 402.50,47.01 403.00,47.68 403.50,47.39 404.00,47.72 404.50,47.61 405.00,47.97 405.50,48.31 406.00,48.41 406.50,48.68 407.00,48.85 407.50,48.88 408.00,49.30 408.50,49.20 409.00,49.70 409.50,49.44 410.00,49.72 410.50,49.72 411.00,49.96 411.50,49.83 412.00,50.17 412.50,50.10 413.00,50.41 413.50,50.44 414.00,50.58 414.50,50.66 415.00,51.12 415.50,51.71 416.00,52.52 416.50,52.86 417.00,53.41 417.50,53.49 418.00,53.53 418.50,53.60 419.00,53.67 419.50,53.63 420.00,53.65 420.50,53.81 421.00,54.02 421.50,54.22 422.00,54.21 422.50,54.28 423.00,54.31 423.50,54.36 424.00,54.35 424.50,54.50 425.00,54.71 425.50,54.44 426.00,54.44 426.50,54.89 427.00,54.68 427.50,54.84 428.00,54.88 428.50,54.63 429.00,55.22 429.50,55.17 430.00,54.98 430.50,55.12 431.00,55.08 431.50,54.98 432.00,55.14 432.50,55.33 433.00,55.82 433.50,56.14 434.00,56.42 434.50,56.99 435.00,57.06 435.50,57.67 436.00,57.87 436.50,57.66 437.00,57.43 437.50,57.56 438.00,57.74 438.50,57.78 439.00,57.93 439.50,57.55 440.00,57.70 440.50,57.80 441.00,57.68 441.50,57.41 442.00,58.05 442.50,58.44 443.00,58.40 443.50,58.28 444.00,58.51 444.50,58.77 445.00,59.27 445.50,59.05 446.00,59.04 446.50,59.32 447.00,59.13 447.50,59.48 448.00,59.16 448.50,59.26 449.00,59.50 449.50,59.95 450.00,60.26 450.50,60.63 451.00,60.73 451.50,61.32 452.00,61.53 452.50,61.57 453.00,61.78 453.50,61.67 454.00,61.87 454.50,61.80 455.00,61.78 455.50,61.88 456.00,61.96 456.50,62.31 457.00,62.47 457.50,62.87 458.00,63.05 458.50,63.85 459.00,64.06 459.50,63.51 460.00,63.16 460.50,62.74 461.00,62.65 461.50,62.35 462.00,62.47 462.50,62.09 463.00,61.84 463.50,61.49 464.00,61.98 464.50,61.70 465.00,61.34 465.50,61.51 466.00,61.15 466.50,61.82 467.00,61.37 467.50,61.18 468.00,60.97 468.50,60.57 469.00,60.77 469.50,60.46 470.00,60.68 470.50,60.17 471.00,60.25 471.50,60.47 472.00,60.43 472.50,59.90 473.00,59.82 473.50,60.42 474.00,60.65 474.50,60.61 475.00,60.90 475.50,61.29 476.00,61.60 476.50,62.07 477.00,62.75 477.50,62.74 478.00,62.54 478.50,61.81 479.00,61.39 479.50,60.85 480.00,60.76 480.50,60.37 481.00,60.08 481.50,60.23 482.00,60.24 482.50,60.21 483.00,60.34 483.50,60.24 484.00,60.15 484.50,60.33 485.00,60.32 485.50,60.27 486.00,60.25 486.50,60.36 487.00,60.65 487.50,60.76 488.00,60.74 488.50,61.10 489.00,60.99 489.50,61.13 490.00,61.30 490.50,61.08 491.00,60.98 491.50,61.47 492.00,61.26 492.50,61.46 493.00,61.22 493.50,61.23 494.00,61.10 494.50,60.57 495.00,60.90 495.50,60.59 496.00,60.49 496.50,60.47 497.00,60.59 497.50,60.54 498.00,60.50 498.50,60.03 499.00,60.13 499.50,59.80 500.00,60.07 500.50,60.12 501.00,59.87 501.50,60.01 502.00,59.99 502.50,60.08 503.00,59.79 503.50,59.77 504.00,59.76 504.50,60.12 505.00,60.00 505.50,59.80 506.00,59.83 506.50,59.77 507.00,59.74 507.50,59.63 508.00,59.56 508.50,59.38 509.00,59.42 509.50,59.72 510.00,59.51 510.50,59.39 511.00,59.30 511.50,59.29 512.00,59.29" fill="none" stroke="#000" stroke-width="1.7" stroke-linejoin="round" stroke-linecap="round" />
<path d="M34.60,232.05V234.85M35.10,233.49V235.02M35.60,232.01V234.18M36.10,232.23V234.33M36.60,231.60V234.76M37.10,234.00V235.59M37.60,233.38V237.03M38.10,233.64V237.34M38.60,234.41V237.49M39.10,232.52V235.92M39.60,232.55V235.29M40.10,233.41V235.59M40.60,233.33V237.85M41.10,233.13V237.08M41.60,235.39V238.13M42.10,236.44V239.45M42.60,235.42V239.08M43.10,237.42V240.38M43.60,237.00V239.91M44.10,238.01V241.34M44.60,236.80V242.29M45.10,237.60V239.86M45.60,236.81V240.56M46.10,236.02V241.00M46.60,238.66V243.20M47.10,236.95V241.68M47.60,238.29V243.71M48.10,239.53V243.77M48.60,237.29V242.30M49.10,237.81V241.70M49.60,239.88V243.02M50.10,240.91V245.15M50.60,240.13V243.71M51.10,240.61V244.07M51.60,244.48V247.91M52.10,242.89V247.56M52.60,244.15V249.76M53.10,245.88V249.08M53.60,243.54V248.56M54.10,245.06V250.02M54.60,244.94V251.82M55.10,246.11V251.01M55.60,245.32V250.22M56.10,245.79V249.53M56.60,247.06V250.53M57.10,247.39V252.02M57.60,244.77V249.73M58.10,245.50V250.66M58.60,245.30V249.16M59.10,244.88V249.88M59.60,246.33V250.53M60.10,246.64V249.35M60.60,244.71V252.23M61.10,248.55V252.44M61.60,248.59V254.28M62.10,248.37V252.52M62.60,247.36V252.49M63.10,248.24V252.90M63.60,248.51V253.41M64.10,248.75V255.54M64.60,247.18V252.31M65.10,247.90V254.28M65.60,249.85V254.01M66.10,247.71V253.78M66.60,249.05V252.40M67.10,252.29V254.78M67.60,249.52V256.26M68.10,249.08V256.47M68.60,249.53V256.18M69.10,252.58V257.83M69.60,250.99V257.42M70.10,253.43V258.68M70.60,254.20V257.29M71.10,253.88V259.75M71.60,252.72V258.60M72.10,253.57V260.83M72.60,253.55V259.69M73.10,253.95V258.30M73.60,254.54V258.99M74.10,256.09V260.80M74.60,254.30V259.12M75.10,253.81V260.02M75.60,254.56V259.57M76.10,254.52V259.87M76.60,254.33V259.47M77.10,254.35V259.46M77.60,254.92V260.57M78.10,255.82V261.22M78.60,257.02V260.61M79.10,255.64V261.06M79.60,255.23V260.73M80.10,255.00V262.00M80.60,256.05V263.32M81.10,256.36V262.96M81.60,256.77V261.48M82.10,258.04V262.78M82.60,257.97V263.83M83.10,258.57V264.54M83.60,258.42V264.47M84.10,258.47V263.58M84.60,258.39V264.37M85.10,258.30V265.12M85.60,259.99V263.87M86.10,259.00V264.81M86.60,260.29V265.04M87.10,258.33V264.39M87.60,261.89V265.54M88.10,261.27V267.20M88.60,261.44V265.16M89.10,260.45V265.80M89.60,261.91V265.50M90.10,261.41V264.78M90.60,262.56V265.67M91.10,260.68V267.14M91.60,260.12V266.73M92.10,259.83V265.03M92.60,262.32V267.61M93.10,260.89V265.94M93.60,261.31V265.53M94.10,261.29V266.07M94.60,260.81V265.98M95.10,262.28V266.74M95.60,260.87V266.68M96.10,261.54V266.80M96.60,261.34V265.22M97.10,260.75V266.75M97.60,260.70V264.64M98.10,261.29V264.65M98.60,261.47V266.37M99.10,259.27V265.23M99.60,261.74V265.56M100.10,261.72V265.17M100.60,261.38V266.92M101.10,260.13V264.91M101.60,260.51V267.38M102.10,259.30V265.66M102.60,260.86V267.14M103.10,259.88V265.08M103.60,262.29V266.84M104.10,261.18V265.94M104.60,258.89V264.55M105.10,259.66V265.53M105.60,258.24V264.81M106.10,258.53V265.05M106.60,260.32V264.60M107.10,259.83V266.20M107.60,259.82V265.62M108.10,259.14V264.39M108.60,259.75V263.89M109.10,259.34V265.16M109.60,259.66V263.32M110.10,258.34V264.00M110.60,260.27V266.31M111.10,260.80V266.30M111.60,261.93V267.27M112.10,260.43V266.97M112.60,259.86V266.37M113.10,261.67V265.03M113.60,258.33V264.55M114.10,262.39V267.24M114.60,260.38V266.97M115.10,262.53V267.61M115.60,260.86V265.70M116.10,260.88V268.05M116.60,261.13V265.95M117.10,261.43V265.47M117.60,261.97V266.37M118.10,261.86V266.00M118.60,262.62V269.66M119.10,262.23V269.46M119.60,262.74V267.45M120.10,264.07V267.52M120.60,260.44V266.53M121.10,262.91V267.59M121.60,260.79V265.66M122.10,261.70V266.27M122.60,261.01V265.34M123.10,259.61V266.31M123.60,259.97V264.31M124.10,261.12V265.85M124.60,261.09V265.73M125.10,258.24V263.53M125.60,258.61V263.79M126.10,261.00V266.33M126.60,258.24V263.52M127.10,260.39V265.63M127.60,260.50V265.04M128.10,258.25V264.56M128.60,259.95V267.22M129.10,260.80V266.32M129.60,259.71V266.84M130.10,261.34V268.02M130.60,261.73V265.99M131.10,261.13V267.23M131.60,261.36V265.53M132.10,263.21V267.84M132.60,261.14V267.27M133.10,260.29V266.06M133.60,258.93V263.71M134.10,260.54V265.08M134.60,258.14V263.36M135.10,260.58V264.41M135.60,259.17V264.99M136.10,256.97V262.42M136.60,259.87V264.91M137.10,257.33V263.96M137.60,257.60V262.10M138.10,259.49V265.06M138.60,257.36V263.43M139.10,255.54V262.86M139.60,255.44V260.56M140.10,254.65V262.69M140.60,257.51V260.90M141.10,254.95V261.22M141.60,256.56V260.37M142.10,255.77V262.63M142.60,257.68V260.98M143.10,257.10V260.96M143.60,256.67V260.79M144.10,255.67V259.94M144.60,254.29V259.30M145.10,253.45V258.10M145.60,255.04V260.35M146.10,255.21V259.21M146.60,256.29V262.19M147.10,255.24V261.31M147.60,253.97V259.11M148.10,253.02V258.53M148.60,252.73V260.29M149.10,254.00V259.25M149.60,252.81V258.90M150.10,253.60V258.99M150.60,252.86V259.15M151.10,254.52V259.31M151.60,252.57V260.32M152.10,253.93V258.29M152.60,252.89V256.61M153.10,254.12V257.71M153.60,252.25V259.36M154.10,253.40V257.44M154.60,253.33V257.69M155.10,252.67V257.50M155.60,253.67V257.37M156.10,254.31V257.63M156.60,253.88V258.03M157.10,254.41V259.68M157.60,255.67V260.68M158.10,253.24V257.17M158.60,252.56V258.50M159.10,253.10V257.72M159.60,253.78V259.64M160.10,252.31V257.95M160.60,251.18V257.09M161.10,253.94V259.75M161.60,252.73V259.33M162.10,253.10V257.69M162.60,252.35V259.18" stroke="#cfcfcf" stroke-width="0.7" fill="none"/>
<polyline points="34.60,234.01 35.10,233.80 35.60,232.55 36.10,232.18 36.60,233.47 37.10,234.38 37.60,234.40 38.10,233.86 38.60,234.21 39.10,235.05 39.60,233.75 40.10,235.45 40.60,235.67 41.10,236.13 41.60,236.81 42.10,236.68 42.60,237.42 43.10,238.76 43.60,238.04 44.10,238.40 44.60,238.03 45.10,238.56 45.60,239.22 46.10,239.67 46.60,239.65 47.10,239.92 47.60,240.10 48.10,240.07 48.60,240.51 49.10,240.14 49.60,241.36 50.10,241.41 50.60,241.27 51.10,242.31 51.60,243.74 52.10,244.50 52.60,245.10 53.10,246.32 53.60,247.79 54.10,248.23 54.60,248.35 55.10,247.40 55.60,248.01 56.10,248.49 56.60,248.31 57.10,249.11 57.60,247.89 58.10,248.01 58.60,247.98 59.10,247.81 59.60,248.10 60.10,248.35 60.60,248.71 61.10,249.06 61.60,249.67 62.10,250.22 62.60,249.73 63.10,250.80 63.60,250.32 64.10,250.76 64.60,250.36 65.10,251.00 65.60,250.95 66.10,251.19 66.60,251.13 67.10,252.17 67.60,253.50 68.10,252.44 68.60,254.02 69.10,254.27 69.60,254.36 70.10,254.37 70.60,256.24 71.10,256.03 71.60,256.75 72.10,256.18 72.60,256.09 73.10,257.10 73.60,257.07 74.10,256.70 74.60,256.88 75.10,257.52 75.60,257.05 76.10,257.26 76.60,257.78 77.10,258.41 77.60,258.46 78.10,258.20 78.60,258.82 79.10,258.14 79.60,258.10 80.10,259.70 80.60,258.54 81.10,259.39 81.60,260.04 82.10,260.50 82.60,261.22 83.10,261.64 83.60,261.75 84.10,261.38 84.60,261.67 85.10,262.31 85.60,261.95 86.10,261.66 86.60,262.37 87.10,262.33 87.60,262.47 88.10,262.83 88.60,263.85 89.10,262.75 89.60,262.05 90.10,262.92 90.60,262.60 91.10,263.73 91.60,264.40 92.10,264.07 92.60,264.24 93.10,263.58 93.60,264.44 94.10,263.51 94.60,264.02 95.10,265.31 95.60,263.72 96.10,264.10 96.60,263.84 97.10,263.91 97.60,263.59 98.10,263.77 98.60,262.97 99.10,263.25 99.60,262.60 100.10,263.63 100.60,262.85 101.10,264.11 101.60,263.51 102.10,264.02 102.60,263.30 103.10,263.65 103.60,263.43 104.10,263.32 104.60,262.65 105.10,262.15 105.60,262.29 106.10,262.20 106.60,262.10 107.10,261.98 107.60,261.89 108.10,263.54 108.60,262.13 109.10,261.77 109.60,262.61 110.10,262.45 110.60,262.68 111.10,263.73 111.60,264.36 112.10,263.09 112.60,264.25 113.10,263.83 113.60,263.84 114.10,262.74 114.60,263.53 115.10,263.78 115.60,262.44 116.10,264.81 116.60,265.07 117.10,263.90 117.60,264.89 118.10,264.81 118.60,265.18 119.10,264.83 119.60,265.56 120.10,265.35 120.60,264.69 121.10,264.44 121.60,263.30 122.10,264.08 122.60,262.86 123.10,263.05 123.60,262.20 124.10,263.42 124.60,261.98 125.10,262.63 125.60,261.77 126.10,261.92 126.60,262.61 127.10,262.55 127.60,263.99 128.10,263.03 128.60,264.18 129.10,263.06 129.60,263.41 130.10,264.38 130.60,263.60 131.10,265.10 131.60,264.28 132.10,263.93 132.60,264.23 133.10,262.50 133.60,261.76 134.10,260.72 134.60,261.22 135.10,262.19 135.60,261.25 136.10,262.16 136.60,261.81 137.10,261.06 137.60,259.51 138.10,259.33 138.60,258.54 139.10,259.39 139.60,259.38 140.10,258.60 140.60,258.56 141.10,258.45 141.60,258.51 142.10,257.71 142.60,257.81 143.10,258.78 143.60,258.56 144.10,258.15 144.60,257.54 145.10,257.61 145.60,257.67 146.10,257.34 146.60,258.68 147.10,257.89 147.60,256.76 148.10,256.36 148.60,256.04 149.10,255.81 149.60,256.08 150.10,255.85 150.60,256.10 151.10,256.44 151.60,256.05 152.10,255.08 152.60,255.40 153.10,254.93 153.60,254.59 154.10,255.57 154.60,254.40 155.10,255.78 155.60,254.92 156.10,256.30 156.60,255.93 157.10,256.79 157.60,256.55 158.10,255.73 158.60,256.00 159.10,255.89 159.60,255.78 160.10,256.16 160.60,255.56 161.10,257.07 161.60,255.84 162.10,256.18 162.60,255.61" fill="none" stroke="#8c8c8c" stroke-width="2.0" stroke-linejoin="round" stroke-linecap="round" />
<path d="M34.60,232.57V233.92M35.10,232.16V233.64M35.60,232.73V234.96M36.10,232.08V233.27M36.60,232.83V233.96M37.10,232.47V234.75M37.60,233.36V235.41M38.10,233.65V235.05M38.60,233.36V235.01M39.10,233.48V235.72M39.60,232.88V235.52M40.10,233.62V235.88M40.60,235.09V237.06M41.10,234.78V237.11M41.60,234.91V236.83M42.10,236.96V238.01M42.60,235.48V237.43M43.10,237.02V238.70M43.60,237.94V239.49M44.10,237.02V239.30M44.60,238.10V239.67M45.10,236.95V239.98M45.60,237.51V239.56M46.10,237.53V240.74M46.60,238.74V240.94M47.10,237.46V239.91M47.60,237.44V239.81M48.10,239.29V241.56M48.60,237.92V240.84M49.10,238.48V240.87M49.60,239.87V242.33M50.10,240.38V242.52M50.60,240.09V242.48M51.10,240.71V244.10M51.60,244.09V246.17M52.10,243.02V245.18M52.60,244.51V247.37M53.10,245.64V248.51M53.60,246.51V248.93M54.10,246.09V248.67M54.60,246.44V249.80M55.10,247.22V249.67M55.60,245.60V248.16M56.10,247.07V248.81M56.60,246.84V249.92M57.10,246.48V249.27M57.60,248.21V250.48M58.10,246.29V249.52M58.60,245.72V248.42M59.10,246.82V249.06M59.60,246.57V249.10M60.10,247.42V249.77M60.60,247.02V250.76M61.10,247.36V250.00M61.60,248.90V251.82M62.10,249.87V252.37M62.60,249.49V251.67M63.10,249.03V251.40M63.60,249.75V252.89M64.10,249.22V250.89M64.60,249.85V252.17M65.10,249.02V251.91M65.60,249.35V251.83M66.10,249.84V252.47M66.60,249.14V252.97M67.10,251.41V254.23M67.60,251.32V253.97M68.10,251.88V255.37M68.60,252.73V254.55M69.10,252.58V255.48M69.60,252.71V255.32M70.10,253.93V256.37M70.60,254.74V257.94M71.10,254.40V257.09M71.60,254.69V257.63M72.10,255.20V258.26M72.60,254.48V257.48M73.10,255.35V257.96M73.60,255.09V258.46M74.10,255.75V258.09M74.60,255.74V258.15M75.10,256.30V259.00M75.60,256.47V259.30M76.10,256.46V259.08M76.60,256.86V259.57M77.10,256.06V258.92M77.60,257.59V259.73M78.10,255.51V258.59M78.60,257.29V258.94M79.10,256.49V258.92M79.60,256.67V259.80M80.10,257.46V259.30M80.60,257.94V259.68M81.10,257.95V261.58M81.60,258.57V262.01M82.10,259.58V262.28M82.60,259.64V262.69M83.10,258.69V261.05M83.60,260.44V262.65M84.10,259.99V262.72M84.60,260.21V262.81M85.10,259.50V262.52M85.60,260.73V264.35M86.10,260.43V263.08M86.60,262.17V264.12M87.10,261.79V263.90M87.60,260.85V263.66M88.10,262.66V264.58M88.60,262.39V264.23M89.10,260.91V264.69M89.60,261.87V263.94M90.10,261.52V264.65M90.60,260.61V263.47M91.10,262.31V264.37M91.60,261.57V265.43M92.10,261.04V264.36M92.60,262.20V264.76M93.10,262.10V265.83M93.60,261.95V265.36M94.10,264.19V265.89M94.60,263.75V265.89M95.10,263.47V266.28M95.60,262.57V265.61M96.10,261.96V265.14M96.60,262.96V265.67M97.10,261.05V263.71M97.60,262.37V264.55M98.10,262.07V264.05M98.60,261.18V263.46M99.10,261.51V264.82M99.60,263.10V264.92M100.10,262.36V264.24M100.60,262.39V265.40M101.10,261.88V265.15M101.60,262.35V264.09M102.10,261.40V264.18M102.60,261.07V264.42M103.10,261.92V263.71M103.60,262.27V263.96M104.10,263.43V266.14M104.60,261.65V263.39M105.10,260.98V264.20M105.60,261.15V263.49M106.10,261.37V264.55M106.60,261.30V264.59M107.10,262.48V264.86M107.60,261.08V264.41M108.10,260.47V263.22M108.60,262.61V264.52M109.10,260.81V262.85M109.60,260.00V262.41M110.10,262.32V263.80M110.60,260.99V263.50M111.10,262.26V264.64M111.60,262.66V265.32M112.10,261.59V264.56M112.60,262.70V265.29M113.10,262.57V264.95M113.60,262.34V265.57M114.10,261.32V264.09M114.60,261.88V265.49M115.10,262.47V264.80M115.60,261.12V264.64M116.10,261.68V264.20M116.60,263.20V265.89M117.10,263.17V266.39M117.60,263.50V266.01M118.10,264.00V265.70M118.60,264.41V267.54M119.10,263.34V265.47M119.60,263.97V267.73M120.10,263.38V266.59M120.60,263.80V266.75M121.10,263.80V266.20M121.60,262.98V265.51M122.10,262.58V265.61M122.60,262.26V265.03M123.10,262.24V264.67M123.60,260.98V263.97M124.10,261.95V264.66M124.60,261.70V264.66M125.10,261.06V264.20M125.60,260.71V262.85M126.10,260.44V263.00M126.60,261.30V263.05M127.10,262.11V263.88M127.60,260.16V263.01M128.10,260.94V263.99M128.60,261.35V264.13M129.10,262.35V264.79M129.60,262.71V264.91M130.10,263.07V265.19M130.60,262.29V264.57M131.10,262.84V265.66M131.60,263.07V265.99M132.10,261.79V265.54M132.60,262.85V264.75M133.10,260.87V263.96M133.60,259.95V262.90M134.10,261.18V263.94M134.60,260.51V263.78M135.10,260.09V262.76M135.60,262.03V264.51M136.10,261.75V264.51M136.60,261.40V263.90M137.10,259.38V261.30M137.60,260.42V263.10M138.10,258.69V261.18M138.60,258.42V260.06M139.10,258.06V260.79M139.60,257.45V259.92M140.10,257.52V260.61M140.60,258.65V259.97M141.10,256.17V259.13M141.60,255.61V258.40M142.10,256.18V259.23M142.60,257.76V259.89M143.10,256.54V259.78M143.60,257.40V261.30M144.10,256.73V258.97M144.60,256.27V258.51M145.10,255.48V258.89M145.60,257.16V259.67M146.10,255.66V258.91M146.60,256.93V259.10M147.10,256.59V259.73M147.60,255.67V258.21M148.10,255.11V256.87M148.60,254.81V258.40M149.10,256.12V258.46M149.60,255.64V257.88M150.10,254.95V257.87M150.60,256.05V259.14M151.10,254.99V256.62M151.60,253.78V256.02M152.10,255.35V257.58M152.60,254.27V256.86M153.10,254.16V256.26M153.60,253.98V256.99M154.10,254.33V256.76M154.60,253.74V255.91M155.10,255.30V257.44M155.60,255.28V257.31M156.10,255.52V258.06M156.60,254.83V256.73M157.10,255.61V257.83M157.60,254.40V258.47M158.10,255.54V258.13M158.60,254.14V256.23M159.10,254.74V257.09M159.60,253.38V255.90M160.10,254.46V256.89M160.60,254.18V256.81M161.10,254.49V256.77M161.60,253.40V257.38M162.10,254.55V257.43M162.60,254.43V257.70" stroke="#8c8c8c" stroke-width="0.7" fill="none"/>
<path d="M34.60,230.69V233.15M35.10,231.71V234.45M35.60,232.46V233.93M36.10,231.35V233.54M36.60,230.78V233.96M37.10,231.67V234.38M37.60,231.93V234.19M38.10,231.38V233.95M38.60,231.41V234.19M39.10,230.62V232.82M39.60,232.21V235.07M40.10,232.39V234.61M40.60,232.67V234.19M41.10,231.16V233.21M41.60,231.32V233.83M42.10,233.07V235.54M42.60,231.16V233.35M43.10,232.81V235.23M43.60,233.67V236.18M44.10,235.13V237.23M44.60,234.84V237.55M45.10,234.05V236.25M45.60,235.88V238.04M46.10,235.22V237.51M46.60,235.48V238.00M47.10,234.03V236.38M47.60,234.61V237.25M48.10,234.68V237.90M48.60,236.06V237.71M49.10,237.12V238.67M49.60,236.46V239.97M50.10,235.56V237.88M50.60,236.62V240.00M51.10,236.80V239.42M51.60,237.55V239.92M52.10,237.97V240.23M52.60,238.10V240.97M53.10,238.98V241.39M53.60,238.03V241.21M54.10,238.35V240.92M54.60,239.35V241.08M55.10,239.68V242.76M55.60,238.90V241.40M56.10,239.42V242.78M56.60,237.98V241.75M57.10,238.76V240.92M57.60,237.91V240.16M58.10,237.75V240.86M58.60,238.11V240.74M59.10,237.71V240.44M59.60,238.60V242.55M60.10,239.40V242.47M60.60,240.05V243.13M61.10,241.84V243.83M61.60,241.29V244.20M62.10,240.66V244.60M62.60,242.28V245.04M63.10,242.04V245.62M63.60,243.25V245.43M64.10,242.57V244.96M64.60,242.85V246.26M65.10,243.03V246.48M65.60,244.48V247.49M66.10,242.74V245.39M66.60,243.44V245.77M67.10,242.36V244.90M67.60,242.72V244.62M68.10,242.03V244.93M68.60,243.07V246.32M69.10,242.74V245.58M69.60,242.68V245.49M70.10,243.33V246.75M70.60,243.34V245.81M71.10,242.88V246.06M71.60,243.08V246.12M72.10,241.67V244.47M72.60,242.86V246.01M73.10,241.64V245.59M73.60,242.93V245.03M74.10,243.82V245.39M74.60,241.19V244.70M75.10,242.78V246.02M75.60,241.93V245.16M76.10,241.04V245.35M76.60,240.71V244.57M77.10,244.02V245.84M77.60,242.96V246.83M78.10,241.33V244.53M78.60,242.87V246.50M79.10,244.96V246.98M79.60,242.89V245.22M80.10,244.89V247.37M80.60,244.05V247.09M81.10,243.93V246.35M81.60,244.18V247.33M82.10,243.49V245.95M82.60,245.71V248.71M83.10,243.28V246.24M83.60,243.74V248.31M84.10,244.75V247.89M84.60,243.26V247.73M85.10,244.84V247.46M85.60,243.53V246.71M86.10,244.41V249.36M86.60,245.48V248.59M87.10,243.41V247.61M87.60,246.01V248.44M88.10,245.25V247.60M88.60,245.22V247.72M89.10,245.18V248.40M89.60,244.42V247.14M90.10,244.11V248.16M90.60,243.87V248.15M91.10,243.11V246.50M91.60,241.68V246.50M92.10,243.55V246.00M92.60,242.87V246.83M93.10,243.33V246.78M93.60,244.52V247.37M94.10,244.58V248.06M94.60,245.10V247.64M95.10,244.30V247.60M95.60,246.04V249.44M96.10,246.07V250.14M96.60,244.63V247.76M97.10,244.14V247.61M97.60,245.31V247.08M98.10,245.00V249.27M98.60,244.68V248.73M99.10,244.20V247.74M99.60,243.85V248.79M100.10,244.39V248.54M100.60,245.12V247.47M101.10,244.95V248.77M101.60,244.26V247.35M102.10,244.71V248.19M102.60,243.76V247.31M103.10,243.44V247.20M103.60,244.11V246.87M104.10,244.28V249.25M104.60,244.75V249.03M105.10,244.22V246.54M105.60,245.06V248.08M106.10,244.16V248.83M106.60,245.09V246.89M107.10,244.83V248.57M107.60,245.37V248.34M108.10,242.73V246.47M108.60,242.99V246.63M109.10,241.70V246.55M109.60,244.03V248.41M110.10,244.28V249.05M110.60,243.03V245.04M111.10,243.46V246.58M111.60,243.88V245.64M112.10,241.75V245.74M112.60,242.80V246.53M113.10,242.37V247.52M113.60,240.93V246.32M114.10,243.33V247.26M114.60,242.78V245.87M115.10,242.69V245.72M115.60,242.26V246.16M116.10,242.90V246.48M116.60,242.21V245.61M117.10,243.70V245.81M117.60,243.25V246.24M118.10,243.08V247.16M118.60,242.39V246.29M119.10,242.51V246.11M119.60,241.78V245.57M120.10,241.17V246.22M120.60,241.93V245.82M121.10,241.95V245.97M121.60,243.73V246.75M122.10,241.48V247.12M122.60,242.95V246.07M123.10,240.81V245.63M123.60,240.94V244.93M124.10,241.21V245.37M124.60,242.23V246.83M125.10,241.00V246.35M125.60,240.61V244.83M126.10,240.68V244.99M126.60,242.74V245.38M127.10,240.43V246.51M127.60,240.34V244.40M128.10,242.33V245.60M128.60,241.47V246.72M129.10,239.73V244.51M129.60,242.04V245.67M130.10,240.68V244.17M130.60,240.03V244.05M131.10,241.95V244.99M131.60,239.97V246.26M132.10,241.15V244.82M132.60,240.79V245.59M133.10,241.37V244.98M133.60,242.72V246.87M134.10,242.08V246.47M134.60,243.15V246.41M135.10,244.00V247.79M135.60,243.18V248.45M136.10,242.22V247.12M136.60,242.40V248.13M137.10,241.16V246.02M137.60,242.01V245.47M138.10,243.27V247.49M138.60,241.32V246.54M139.10,244.40V247.86M139.60,244.54V248.71M140.10,243.39V246.84M140.60,241.68V245.66M141.10,244.06V247.18M141.60,241.58V248.34M142.10,243.27V248.35M142.60,242.53V247.31M143.10,243.59V246.59M143.60,245.31V250.01M144.10,243.42V247.93M144.60,244.35V248.99M145.10,243.47V248.84M145.60,242.22V249.25M146.10,243.50V248.60M146.60,242.63V247.96M147.10,242.58V246.49M147.60,241.82V246.42M148.10,244.67V247.68M148.60,242.82V248.78M149.10,242.45V247.15M149.60,243.60V248.70M150.10,243.55V246.92M150.60,242.67V247.64M151.10,244.07V249.94M151.60,244.84V249.23M152.10,242.98V250.13M152.60,243.65V249.69M153.10,244.94V248.47M153.60,243.09V246.56M154.10,244.52V249.23M154.60,244.06V248.17M155.10,244.49V250.02M155.60,244.05V248.41M156.10,242.70V247.02M156.60,243.44V248.11M157.10,244.22V248.36M157.60,245.30V248.69M158.10,242.29V248.72M158.60,244.03V249.75M159.10,242.14V247.64M159.60,243.71V249.21M160.10,242.82V248.63M160.60,240.33V247.15M161.10,242.14V246.44M161.60,242.22V247.31M162.10,242.47V246.07M162.60,241.03V247.45" stroke="#9c9c9c" stroke-width="0.7" fill="none"/>
<polyline points="34.60,233.71 35.10,233.93 35.60,232.96 36.10,233.28 36.60,232.25 37.10,232.70 37.60,231.95 38.10,232.41 38.60,232.15 39.10,232.42 39.60,231.91 40.10,231.96 40.60,232.28 41.10,232.20 41.60,234.05 42.10,232.62 42.60,233.81 43.10,234.57 43.60,234.58 44.10,234.42 44.60,235.58 45.10,236.34 45.60,236.54 46.10,235.38 46.60,236.28 47.10,236.73 47.60,237.91 48.10,236.96 48.60,237.41 49.10,238.37 49.60,237.07 50.10,237.72 50.60,237.10 51.10,238.25 51.60,238.45 52.10,238.93 52.60,239.87 53.10,240.06 53.60,240.18 54.10,240.12 54.60,240.34 55.10,240.35 55.60,241.27 56.10,241.07 56.60,240.27 57.10,239.68 57.60,239.41 58.10,239.92 58.60,239.95 59.10,240.24 59.60,239.70 60.10,240.36 60.60,240.85 61.10,242.81 61.60,243.02 62.10,242.58 62.60,243.59 63.10,243.70 63.60,243.91 64.10,244.27 64.60,244.04 65.10,244.15 65.60,244.97 66.10,245.71 66.60,244.05 67.10,243.71 67.60,244.37 68.10,243.07 68.60,242.47 69.10,243.89 69.60,244.88 70.10,244.80 70.60,244.26 71.10,243.06 71.60,243.45 72.10,243.35 72.60,243.61 73.10,244.40 73.60,243.51 74.10,244.54 74.60,244.30 75.10,244.08 75.60,243.67 76.10,242.79 76.60,244.55 77.10,244.99 77.60,244.17 78.10,244.53 78.60,244.51 79.10,244.84 79.60,245.46 80.10,245.62 80.60,244.49 81.10,244.34 81.60,244.49 82.10,245.42 82.60,245.60 83.10,245.76 83.60,245.67 84.10,244.60 84.60,245.34 85.10,246.49 85.60,246.27 86.10,246.44 86.60,245.78 87.10,247.03 87.60,246.68 88.10,246.31 88.60,246.91 89.10,247.20 89.60,246.70 90.10,245.20 90.60,244.86 91.10,245.23 91.60,245.76 92.10,244.36 92.60,245.68 93.10,245.10 93.60,246.80 94.10,246.27 94.60,246.83 95.10,246.41 95.60,247.41 96.10,246.80 96.60,245.87 97.10,245.20 97.60,246.62 98.10,246.93 98.60,246.76 99.10,246.78 99.60,246.51 100.10,247.38 100.60,247.30 101.10,246.00 101.60,245.63 102.10,246.19 102.60,244.97 103.10,245.63 103.60,245.80 104.10,245.92 104.60,246.93 105.10,245.86 105.60,246.49 106.10,246.10 106.60,245.80 107.10,246.28 107.60,246.17 108.10,246.34 108.60,245.75 109.10,245.34 109.60,246.40 110.10,246.09 110.60,245.55 111.10,244.88 111.60,245.44 112.10,244.00 112.60,244.29 113.10,244.24 113.60,243.97 114.10,243.20 114.60,245.06 115.10,243.38 115.60,244.94 116.10,245.43 116.60,244.68 117.10,244.57 117.60,243.64 118.10,244.05 118.60,242.97 119.10,243.66 119.60,243.95 120.10,242.93 120.60,243.78 121.10,243.60 121.60,244.69 122.10,243.96 122.60,244.05 123.10,243.75 123.60,244.10 124.10,244.12 124.60,243.39 125.10,244.43 125.60,243.66 126.10,243.02 126.60,243.41 127.10,243.69 127.60,243.64 128.10,243.65 128.60,243.27 129.10,242.97 129.60,242.87 130.10,242.49 130.60,243.58 131.10,243.17 131.60,243.71 132.10,242.96 132.60,243.58 133.10,244.33 133.60,244.14 134.10,244.77 134.60,244.87 135.10,245.19 135.60,244.42 136.10,244.63 136.60,244.56 137.10,245.24 137.60,244.70 138.10,246.45 138.60,244.53 139.10,246.13 139.60,246.04 140.10,245.64 140.60,245.88 141.10,244.73 141.60,245.04 142.10,245.37 142.60,246.99 143.10,245.63 143.60,245.95 144.10,246.31 144.60,246.17 145.10,244.74 145.60,246.28 146.10,245.82 146.60,245.75 147.10,245.90 147.60,245.42 148.10,245.02 148.60,245.72 149.10,246.25 149.60,245.20 150.10,245.83 150.60,245.61 151.10,246.25 151.60,246.36 152.10,245.83 152.60,246.99 153.10,246.00 153.60,245.01 154.10,245.51 154.60,245.40 155.10,245.62 155.60,245.46 156.10,245.45 156.60,246.83 157.10,245.06 157.60,245.51 158.10,245.75 158.60,245.85 159.10,245.25 159.60,245.75 160.10,244.85 160.60,245.51 161.10,243.88 161.60,244.75 162.10,244.80 162.60,244.07" fill="none" stroke="#000" stroke-width="2.0" stroke-linejoin="round" stroke-linecap="round" />
<path d="M34.60,232.09V233.92M35.10,231.68V233.88M35.60,232.40V233.72M36.10,232.54V233.94M36.60,232.46V234.15M37.10,232.34V233.42M37.60,231.88V233.82M38.10,231.72V233.76M38.60,231.67V233.65M39.10,231.44V233.22M39.60,231.68V234.26M40.10,231.25V232.86M40.60,231.77V233.13M41.10,231.04V232.60M41.60,232.36V234.13M42.10,232.92V234.36M42.60,231.97V234.60M43.10,232.88V234.87M43.60,234.59V236.25M44.10,234.46V235.69M44.60,234.08V236.14M45.10,235.39V237.23M45.60,235.08V237.40M46.10,235.64V236.64M46.60,235.03V236.33M47.10,235.59V236.80M47.60,235.84V237.27M48.10,236.20V238.60M48.60,236.09V238.26M49.10,236.98V238.23M49.60,235.63V238.04M50.10,235.84V238.30M50.60,237.69V239.40M51.10,237.88V239.63M51.60,237.78V239.56M52.10,238.99V240.71M52.60,238.18V240.80M53.10,239.62V241.87M53.60,238.92V240.73M54.10,240.34V242.15M54.60,239.52V241.90M55.10,240.10V242.15M55.60,239.84V241.44M56.10,239.98V242.21M56.60,239.56V241.69M57.10,239.26V240.61M57.60,238.78V240.67M58.10,239.11V240.68M58.60,238.26V240.58M59.10,240.52V242.28M59.60,238.50V240.86M60.10,239.35V240.90M60.60,240.36V242.28M61.10,240.07V242.15M61.60,241.92V243.90M62.10,242.96V244.40M62.60,241.90V244.01M63.10,242.18V244.07M63.60,242.47V244.07M64.10,244.27V246.11M64.60,243.83V244.99M65.10,243.83V245.42M65.60,242.52V244.47M66.10,244.27V245.43M66.60,243.21V245.42M67.10,244.11V245.73M67.60,243.12V244.77M68.10,242.75V244.95M68.60,243.07V245.84M69.10,243.05V245.91M69.60,243.03V245.18M70.10,243.28V245.72M70.60,243.13V244.52M71.10,242.34V245.02M71.60,243.94V245.31M72.10,242.51V244.53M72.60,242.95V245.65M73.10,243.18V244.75M73.60,243.82V245.84M74.10,242.72V245.04M74.60,244.28V245.65M75.10,244.12V245.94M75.60,241.89V243.62M76.10,241.60V244.50M76.60,242.83V244.70M77.10,243.68V245.19M77.60,242.49V245.42M78.10,243.86V245.70M78.60,244.00V246.16M79.10,244.70V246.76M79.60,244.02V246.52M80.10,244.28V246.29M80.60,244.55V246.08M81.10,243.67V245.90M81.60,244.37V246.41M82.10,244.04V246.72M82.60,245.44V247.68M83.10,243.76V245.79M83.60,244.68V246.29M84.10,243.80V246.00M84.60,244.52V246.54M85.10,245.92V248.81M85.60,245.63V246.82M86.10,245.77V248.80M86.60,245.64V247.84M87.10,245.68V247.90M87.60,245.74V247.25M88.10,245.66V247.79M88.60,244.35V246.01M89.10,245.20V246.81M89.60,244.72V246.74M90.10,243.61V245.79M90.60,243.74V245.75M91.10,243.88V247.07M91.60,244.51V247.04M92.10,244.41V245.79M92.60,244.69V246.47M93.10,245.89V247.27M93.60,244.70V246.66M94.10,245.35V247.32M94.60,245.14V247.69M95.10,244.98V247.05M95.60,244.68V247.10M96.10,246.49V248.29M96.60,244.50V246.56M97.10,245.56V248.36M97.60,246.00V247.58M98.10,245.27V247.45M98.60,245.28V247.34M99.10,244.75V247.84M99.60,245.53V248.30M100.10,245.57V247.58M100.60,246.04V247.88M101.10,244.14V246.12M101.60,244.93V247.76M102.10,244.13V245.82M102.60,245.98V247.48M103.10,244.70V247.06M103.60,244.68V247.51M104.10,245.25V246.90M104.60,245.39V247.94M105.10,245.54V247.65M105.60,244.57V247.14M106.10,244.37V246.83M106.60,244.92V246.76M107.10,244.31V245.98M107.60,245.36V247.84M108.10,244.38V246.77M108.60,244.88V247.25M109.10,243.84V246.97M109.60,243.26V246.18M110.10,244.56V246.62M110.60,244.61V246.74M111.10,244.34V246.50M111.60,244.55V246.57M112.10,242.39V245.41M112.60,243.51V246.26M113.10,244.23V246.25M113.60,242.91V244.59M114.10,242.25V245.15M114.60,241.96V244.76M115.10,243.06V245.39M115.60,243.17V245.74M116.10,243.44V245.62M116.60,242.78V245.27M117.10,244.06V245.97M117.60,243.61V245.32M118.10,243.93V246.42M118.60,242.04V244.37M119.10,243.14V244.49M119.60,242.91V245.22M120.10,242.54V244.56M120.60,243.38V246.00M121.10,243.22V245.46M121.60,242.53V245.29M122.10,242.19V244.94M122.60,242.10V244.52M123.10,243.42V245.21M123.60,242.33V243.81M124.10,243.62V245.25M124.60,243.02V245.34M125.10,243.58V245.55M125.60,242.89V245.08M126.10,243.58V245.01M126.60,243.59V245.52M127.10,242.88V244.40M127.60,242.90V244.45M128.10,240.90V243.30M128.60,241.75V243.88M129.10,241.10V243.96M129.60,242.31V244.01M130.10,242.44V244.10M130.60,241.35V243.75M131.10,240.89V244.05M131.60,242.35V244.72M132.10,242.29V244.38M132.60,242.88V244.99M133.10,242.61V244.84M133.60,243.81V246.59M134.10,244.87V246.67M134.60,243.20V246.13M135.10,244.84V246.53M135.60,243.84V245.48M136.10,244.85V246.49M136.60,243.66V245.06M137.10,244.56V246.31M137.60,245.16V248.04M138.10,243.16V245.11M138.60,244.02V246.50M139.10,244.08V247.11M139.60,244.07V246.42M140.10,244.19V246.53M140.60,244.00V247.07M141.10,244.90V246.76M141.60,243.15V245.44M142.10,244.15V246.30M142.60,243.53V245.45M143.10,244.22V246.52M143.60,244.18V246.41M144.10,244.18V246.71M144.60,243.91V246.36M145.10,245.24V246.50M145.60,244.52V246.99M146.10,244.16V246.88M146.60,243.87V247.09M147.10,245.44V247.84M147.60,244.32V247.27M148.10,244.23V246.50M148.60,244.65V245.93M149.10,244.08V246.63M149.60,243.96V246.69M150.10,245.09V246.98M150.60,243.65V246.19M151.10,244.23V246.41M151.60,243.65V245.90M152.10,244.50V247.10M152.60,245.12V247.62M153.10,245.57V248.14M153.60,245.32V247.96M154.10,244.84V247.02M154.60,243.61V247.04M155.10,244.72V247.12M155.60,244.16V246.65M156.10,244.84V247.42M156.60,242.94V245.59M157.10,244.06V247.02M157.60,245.24V247.66M158.10,243.57V246.21M158.60,244.54V246.21M159.10,245.03V247.06M159.60,243.84V246.21M160.10,243.60V246.49M160.60,244.55V247.24M161.10,243.80V247.02M161.60,243.98V245.66M162.10,243.62V245.11M162.60,243.72V245.97" stroke="#000" stroke-width="0.7" fill="none"/>
<path d="M385.00,233.87 L385.50,233.97 L386.00,234.18 L386.50,234.26 L387.00,234.27 L387.50,234.29 L388.00,234.58 L388.50,234.72 L389.00,234.86 L389.50,234.48 L390.00,234.77 L390.50,234.90 L391.00,235.11 L391.50,235.08 L392.00,235.14 L392.50,235.06 L393.00,235.28 L393.50,235.55 L394.00,235.81 L394.50,235.79 L395.00,235.99 L395.50,235.51 L396.00,236.21 L396.50,235.90 L397.00,236.17 L397.50,236.43 L398.00,236.07 L398.50,236.49 L399.00,236.56 L399.50,236.66 L400.00,236.94 L400.50,237.00 L401.00,236.96 L401.50,236.95 L402.00,237.48 L402.50,237.29 L403.00,237.73 L403.50,237.55 L404.00,237.85 L404.50,238.17 L405.00,237.85 L405.50,238.44 L406.00,238.44 L406.50,238.15 L407.00,238.14 L407.50,238.64 L408.00,238.92 L408.50,239.17 L409.00,239.36 L409.50,239.17 L410.00,239.78 L410.50,239.90 L411.00,240.07 L411.50,240.06 L412.00,240.11 L412.50,239.84 L413.00,240.71 L413.50,240.93 L414.00,240.70 L414.50,241.23 L415.00,241.43 L415.50,241.71 L416.00,241.97 L416.50,242.50 L417.00,242.77 L417.50,243.38 L418.00,243.48 L418.50,243.78 L419.00,244.23 L419.50,244.80 L420.00,244.79 L420.50,245.69 L421.00,246.13 L421.50,246.32 L422.00,246.66 L422.50,247.34 L423.00,247.55 L423.50,247.96 L424.00,248.44 L424.50,248.51 L425.00,249.07 L425.50,249.31 L426.00,249.67 L426.50,249.69 L427.00,249.83 L427.50,250.34 L428.00,250.81 L428.50,251.03 L429.00,251.13 L429.50,251.37 L430.00,251.45 L430.50,251.96 L431.00,252.07 L431.50,252.56 L432.00,252.75 L432.50,252.85 L433.00,253.04 L433.50,253.60 L434.00,253.83 L434.50,254.48 L435.00,254.45 L435.50,255.31 L436.00,255.68 L436.50,255.91 L437.00,256.18 L437.50,256.65 L438.00,256.84 L438.50,257.53 L439.00,257.71 L439.50,258.04 L440.00,258.31 L440.50,258.33 L441.00,258.82 L441.50,258.86 L442.00,259.14 L442.50,259.36 L443.00,259.58 L443.50,259.90 L444.00,260.18 L444.50,260.05 L445.00,260.18 L445.50,260.66 L446.00,260.75 L446.50,260.88 L447.00,261.05 L447.50,261.10 L448.00,261.47 L448.50,261.06 L449.00,261.75 L449.50,261.75 L450.00,262.04 L450.50,262.05 L451.00,262.45 L451.50,262.38 L452.00,262.69 L452.50,262.87 L453.00,262.71 L453.50,262.75 L454.00,263.22 L454.50,263.19 L455.00,263.20 L455.50,263.07 L456.00,263.30 L456.50,263.50 L457.00,263.57 L457.50,264.02 L458.00,263.84 L458.50,264.12 L459.00,263.83 L459.50,264.44 L460.00,264.51 L460.50,264.65 L461.00,264.72 L461.50,264.80 L462.00,264.97 L462.50,264.76 L463.00,265.07 L463.50,265.04 L464.00,265.73 L464.50,265.83 L465.00,265.83 L465.50,265.87 L466.00,266.15 L466.50,266.33 L467.00,266.36 L467.50,266.52 L468.00,266.40 L468.50,266.76 L469.00,266.94 L469.50,266.72 L470.00,266.98 L470.50,267.18 L471.00,267.01 L471.50,267.05 L472.00,267.46 L472.50,267.09 L473.00,267.63 L473.50,267.48 L474.00,267.62 L474.50,267.69 L475.00,267.51 L475.50,267.52 L476.00,267.58 L476.50,267.48 L477.00,266.87 L477.50,267.13 L478.00,266.68 L478.50,267.23 L479.00,266.90 L479.50,266.66 L480.00,266.85 L480.50,266.71 L481.00,266.97 L481.50,266.81 L482.00,267.18 L482.50,267.12 L483.00,267.12 L483.50,267.28 L484.00,267.38 L484.50,267.49 L485.00,267.24 L485.50,267.19 L486.00,267.63 L486.50,267.36 L487.00,267.44 L487.50,267.60 L488.00,267.40 L488.50,267.75 L489.00,267.72 L489.50,267.61 L490.00,267.67 L490.50,267.61 L491.00,267.41 L491.50,267.51 L492.00,267.94 L492.50,267.70 L493.00,267.98 L493.50,267.81 L494.00,267.09 L494.50,267.94 L495.00,267.96 L495.50,267.91 L496.00,267.61 L496.50,267.66 L497.00,267.66 L497.50,267.60 L498.00,267.64 L498.50,267.80 L499.00,267.85 L499.50,267.76 L500.00,267.57 L500.50,267.65 L501.00,267.70 L501.50,267.64 L502.00,267.59 L502.50,267.59 L503.00,267.08 L503.50,267.40 L504.00,267.20 L504.50,267.21 L505.00,267.21 L505.50,267.09 L506.00,266.68 L506.50,267.01 L507.00,266.91 L507.50,266.57 L508.00,266.55 L508.50,266.50 L509.00,266.56 L509.50,266.70 L510.00,266.36 L510.50,266.58 L511.00,266.21 L511.50,266.43 L512.00,266.35 L512.50,266.50 L513.00,266.63 L513.50,266.78 L513.50,281.14 L513.00,281.36 L512.50,281.04 L512.00,281.03 L511.50,280.89 L511.00,280.95 L510.50,281.51 L510.00,281.19 L509.50,281.59 L509.00,281.47 L508.50,281.68 L508.00,281.55 L507.50,281.73 L507.00,282.15 L506.50,281.94 L506.00,282.46 L505.50,282.46 L505.00,282.38 L504.50,282.59 L504.00,282.95 L503.50,283.16 L503.00,282.86 L502.50,283.18 L502.00,283.34 L501.50,283.44 L501.00,283.49 L500.50,283.61 L500.00,284.12 L499.50,283.81 L499.00,284.37 L498.50,284.12 L498.00,284.45 L497.50,284.45 L497.00,284.57 L496.50,284.41 L496.00,284.93 L495.50,284.65 L495.00,285.30 L494.50,285.06 L494.00,285.45 L493.50,285.41 L493.00,285.18 L492.50,285.28 L492.00,285.84 L491.50,285.73 L491.00,285.66 L490.50,285.70 L490.00,285.72 L489.50,285.86 L489.00,285.94 L488.50,286.27 L488.00,286.00 L487.50,285.98 L487.00,286.06 L486.50,286.03 L486.00,286.03 L485.50,285.98 L485.00,286.10 L484.50,285.98 L484.00,286.20 L483.50,286.27 L483.00,286.09 L482.50,286.12 L482.00,286.40 L481.50,285.90 L481.00,286.02 L480.50,286.01 L480.00,285.97 L479.50,286.11 L479.00,286.10 L478.50,285.77 L478.00,285.95 L477.50,285.72 L477.00,285.76 L476.50,286.21 L476.00,285.72 L475.50,286.09 L475.00,285.91 L474.50,285.69 L474.00,285.41 L473.50,285.50 L473.00,285.20 L472.50,285.29 L472.00,285.28 L471.50,285.06 L471.00,284.85 L470.50,284.69 L470.00,284.84 L469.50,284.39 L469.00,284.27 L468.50,284.20 L468.00,284.03 L467.50,283.80 L467.00,283.97 L466.50,283.69 L466.00,283.52 L465.50,283.34 L465.00,283.32 L464.50,282.89 L464.00,283.14 L463.50,282.78 L463.00,282.33 L462.50,282.39 L462.00,282.47 L461.50,281.80 L461.00,281.82 L460.50,281.34 L460.00,281.64 L459.50,280.99 L459.00,280.81 L458.50,280.54 L458.00,280.16 L457.50,280.11 L457.00,279.75 L456.50,279.44 L456.00,279.34 L455.50,279.02 L455.00,279.36 L454.50,278.56 L454.00,278.34 L453.50,278.08 L453.00,277.80 L452.50,277.73 L452.00,277.60 L451.50,277.26 L451.00,277.15 L450.50,276.34 L450.00,276.16 L449.50,276.01 L449.00,275.53 L448.50,275.50 L448.00,275.05 L447.50,275.09 L447.00,274.15 L446.50,273.91 L446.00,273.74 L445.50,273.19 L445.00,273.57 L444.50,272.85 L444.00,272.93 L443.50,272.39 L443.00,272.16 L442.50,271.80 L442.00,271.58 L441.50,271.05 L441.00,270.95 L440.50,271.07 L440.00,270.42 L439.50,269.92 L439.00,269.94 L438.50,269.58 L438.00,268.79 L437.50,268.37 L437.00,267.81 L436.50,267.53 L436.00,266.80 L435.50,266.57 L435.00,265.98 L434.50,265.31 L434.00,265.61 L433.50,264.32 L433.00,264.02 L432.50,263.41 L432.00,263.33 L431.50,263.25 L431.00,262.26 L430.50,261.68 L430.00,261.25 L429.50,260.99 L429.00,260.61 L428.50,260.13 L428.00,260.11 L427.50,259.68 L427.00,259.05 L426.50,258.46 L426.00,258.54 L425.50,258.18 L425.00,257.17 L424.50,257.02 L424.00,256.40 L423.50,255.77 L423.00,255.34 L422.50,254.91 L422.00,254.75 L421.50,253.82 L421.00,253.32 L420.50,252.81 L420.00,252.62 L419.50,251.79 L419.00,251.61 L418.50,250.68 L418.00,250.78 L417.50,249.64 L417.00,249.16 L416.50,248.85 L416.00,248.37 L415.50,248.04 L415.00,247.81 L414.50,247.00 L414.00,246.67 L413.50,247.00 L413.00,246.25 L412.50,246.11 L412.00,245.43 L411.50,245.15 L411.00,245.06 L410.50,244.65 L410.00,244.67 L409.50,244.28 L409.00,243.90 L408.50,243.66 L408.00,243.47 L407.50,243.08 L407.00,243.23 L406.50,242.93 L406.00,242.65 L405.50,242.28 L405.00,241.97 L404.50,241.64 L404.00,241.59 L403.50,241.57 L403.00,240.94 L402.50,240.67 L402.00,240.70 L401.50,240.21 L401.00,239.83 L400.50,240.52 L400.00,239.40 L399.50,239.19 L399.00,239.08 L398.50,238.96 L398.00,238.91 L397.50,238.61 L397.00,238.50 L396.50,238.32 L396.00,238.42 L395.50,237.86 L395.00,237.77 L394.50,237.56 L394.00,237.30 L393.50,237.33 L393.00,236.98 L392.50,237.19 L392.00,236.98 L391.50,236.44 L391.00,236.18 L390.50,236.06 L390.00,236.13 L389.50,235.67 L389.00,235.57 L388.50,235.52 L388.00,235.20 L387.50,234.97 L387.00,234.80 L386.50,234.96 L386.00,234.97 L385.50,234.53 L385.00,234.50Z" fill="#d6d6d6" stroke="none"/>
<polyline points="385.00,234.10 385.50,234.22 386.00,234.35 386.50,234.47 387.00,234.59 387.50,234.72 388.00,234.84 388.50,234.96 389.00,235.09 389.50,235.21 390.00,235.33 390.50,235.46 391.00,235.58 391.50,235.70 392.00,235.83 392.50,235.95 393.00,236.07 393.50,236.20 394.00,236.32 394.50,236.44 395.00,236.57 395.50,236.69 396.00,236.81 396.50,236.94 397.00,237.06 397.50,237.19 398.00,237.32 398.50,237.45 399.00,237.59 399.50,237.73 400.00,237.88 400.50,238.02 401.00,238.18 401.50,238.33 402.00,238.49 402.50,238.65 403.00,238.82 403.50,238.99 404.00,239.16 404.50,239.33 405.00,239.50 405.50,239.67 406.00,239.84 406.50,240.01 407.00,240.18 407.50,240.36 408.00,240.54 408.50,240.73 409.00,240.92 409.50,241.12 410.00,241.33 410.50,241.54 411.00,241.76 411.50,241.99 412.00,242.22 412.50,242.48 413.00,242.76 413.50,243.07 414.00,243.39 414.50,243.74 415.00,244.10 415.50,244.49 416.00,244.89 416.50,245.32 417.00,245.76 417.50,246.22 418.00,246.70 418.50,247.20 419.00,247.70 419.50,248.20 420.00,248.70 420.50,249.20 421.00,249.70 421.50,250.20 422.00,250.68 422.50,251.16 423.00,251.63 423.50,252.09 424.00,252.53 424.50,252.97 425.00,253.40 425.50,253.82 426.00,254.23 426.50,254.63 427.00,255.03 427.50,255.41 428.00,255.78 428.50,256.16 429.00,256.54 429.50,256.91 430.00,257.29 430.50,257.67 431.00,258.05 431.50,258.45 432.00,258.87 432.50,259.29 433.00,259.73 433.50,260.18 434.00,260.65 434.50,261.12 435.00,261.62 435.50,262.12 436.00,262.64 436.50,263.14 437.00,263.64 437.50,264.10 438.00,264.54 438.50,264.96 439.00,265.34 439.50,265.70 440.00,266.03 440.50,266.33 441.00,266.60 441.50,266.84 442.00,267.05 442.50,267.24 443.00,267.42 443.50,267.60 444.00,267.78 444.50,267.95 445.00,268.13 445.50,268.30 446.00,268.48 446.50,268.65 447.00,268.83 447.50,269.00 448.00,269.17 448.50,269.35 449.00,269.52 449.50,269.70 450.00,269.88 450.50,270.06 451.00,270.24 451.50,270.42 452.00,270.61 452.50,270.80 453.00,270.99 453.50,271.19 454.00,271.38 454.50,271.58 455.00,271.79 455.50,271.99 456.00,272.19 456.50,272.40 457.00,272.60 457.50,272.81 458.00,273.01 458.50,273.21 459.00,273.41 459.50,273.60 460.00,273.79 460.50,273.96 461.00,274.14 461.50,274.30 462.00,274.46 462.50,274.61 463.00,274.76 463.50,274.90 464.00,275.04 464.50,275.17 465.00,275.29 465.50,275.41 466.00,275.54 466.50,275.66 467.00,275.78 467.50,275.91 468.00,276.03 468.50,276.14 469.00,276.26 469.50,276.36 470.00,276.46 470.50,276.56 471.00,276.65 471.50,276.73 472.00,276.81 472.50,276.88 473.00,276.95 473.50,277.00 474.00,277.04 474.50,277.08 475.00,277.12 475.50,277.15 476.00,277.17 476.50,277.20 477.00,277.21 477.50,277.23 478.00,277.24 478.50,277.24 479.00,277.25 479.50,277.26 480.00,277.26 480.50,277.26 481.00,277.26 481.50,277.25 482.00,277.24 482.50,277.23 483.00,277.21 483.50,277.18 484.00,277.15 484.50,277.12 485.00,277.09 485.50,277.05 486.00,277.00 486.50,276.95 487.00,276.90 487.50,276.85 488.00,276.81 488.50,276.76 489.00,276.71 489.50,276.66 490.00,276.61 490.50,276.55 491.00,276.49 491.50,276.43 492.00,276.36 492.50,276.30 493.00,276.23 493.50,276.15 494.00,276.07 494.50,275.99 495.00,275.91 495.50,275.83 496.00,275.74 496.50,275.65 497.00,275.57 497.50,275.48 498.00,275.39 498.50,275.30 499.00,275.21 499.50,275.12 500.00,275.03 500.50,274.93 501.00,274.84 501.50,274.74 502.00,274.64 502.50,274.53 503.00,274.43 503.50,274.32 504.00,274.21 504.50,274.10 505.00,273.99 505.50,273.87 506.00,273.76 506.50,273.65 507.00,273.54 507.50,273.42 508.00,273.32 508.50,273.23 509.00,273.15 509.50,273.09 510.00,273.04 510.50,272.96 511.00,272.89 511.50,272.85 512.00,272.87 512.50,272.93 513.00,273.00" fill="none" stroke="#7d7d7d" stroke-width="1.8" stroke-linejoin="round" stroke-linecap="round" />
<path d="M385.00,233.14 L385.50,233.86 L386.00,233.74 L386.50,233.93 L387.00,234.05 L387.50,234.20 L388.00,234.21 L388.50,234.36 L389.00,234.00 L389.50,234.61 L390.00,234.72 L390.50,234.70 L391.00,234.79 L391.50,235.24 L392.00,234.95 L392.50,235.50 L393.00,235.16 L393.50,235.53 L394.00,235.85 L394.50,236.00 L395.00,236.19 L395.50,236.30 L396.00,236.30 L396.50,236.10 L397.00,236.62 L397.50,236.77 L398.00,236.81 L398.50,236.89 L399.00,236.78 L399.50,236.77 L400.00,236.16 L400.50,236.24 L401.00,236.52 L401.50,236.74 L402.00,236.56 L402.50,236.96 L403.00,237.16 L403.50,236.57 L404.00,237.71 L404.50,237.51 L405.00,237.93 L405.50,237.88 L406.00,237.46 L406.50,238.34 L407.00,238.29 L407.50,238.02 L408.00,238.76 L408.50,238.60 L409.00,238.64 L409.50,238.91 L410.00,239.22 L410.50,239.28 L411.00,239.51 L411.50,239.74 L412.00,239.95 L412.50,239.55 L413.00,239.95 L413.50,240.28 L414.00,240.54 L414.50,240.71 L415.00,240.62 L415.50,241.17 L416.00,241.02 L416.50,241.59 L417.00,241.35 L417.50,241.54 L418.00,242.03 L418.50,242.20 L419.00,242.45 L419.50,242.65 L420.00,242.81 L420.50,242.78 L421.00,243.17 L421.50,242.98 L422.00,243.54 L422.50,243.92 L423.00,243.99 L423.50,244.28 L424.00,244.32 L424.50,244.60 L425.00,244.41 L425.50,244.70 L426.00,245.29 L426.50,245.26 L427.00,245.56 L427.50,245.61 L428.00,245.77 L428.50,245.76 L429.00,246.09 L429.50,246.27 L430.00,246.09 L430.50,246.13 L431.00,246.85 L431.50,246.66 L432.00,246.74 L432.50,246.95 L433.00,247.47 L433.50,247.20 L434.00,247.30 L434.50,247.68 L435.00,247.49 L435.50,247.69 L436.00,247.60 L436.50,247.68 L437.00,248.10 L437.50,248.13 L438.00,248.37 L438.50,248.41 L439.00,248.37 L439.50,248.41 L440.00,248.57 L440.50,248.57 L441.00,248.95 L441.50,248.79 L442.00,248.15 L442.50,248.97 L443.00,249.18 L443.50,249.03 L444.00,249.37 L444.50,249.31 L445.00,249.52 L445.50,249.55 L446.00,249.57 L446.50,249.62 L447.00,249.72 L447.50,249.80 L448.00,249.88 L448.50,249.73 L449.00,249.96 L449.50,249.69 L450.00,249.87 L450.50,250.34 L451.00,250.35 L451.50,250.53 L452.00,250.36 L452.50,250.23 L453.00,250.76 L453.50,250.96 L454.00,250.99 L454.50,250.83 L455.00,251.12 L455.50,251.02 L456.00,251.17 L456.50,251.39 L457.00,251.66 L457.50,251.53 L458.00,251.29 L458.50,251.90 L459.00,251.59 L459.50,252.05 L460.00,252.14 L460.50,252.18 L461.00,252.22 L461.50,252.14 L462.00,252.44 L462.50,251.78 L463.00,252.15 L463.50,252.58 L464.00,252.61 L464.50,252.34 L465.00,252.60 L465.50,251.95 L466.00,252.56 L466.50,252.86 L467.00,253.09 L467.50,253.06 L468.00,253.19 L468.50,253.17 L469.00,253.32 L469.50,253.17 L470.00,253.02 L470.50,253.35 L471.00,253.15 L471.50,253.33 L472.00,252.91 L472.50,253.13 L473.00,253.50 L473.50,253.60 L474.00,253.77 L474.50,253.73 L475.00,253.88 L475.50,253.16 L476.00,253.69 L476.50,253.31 L477.00,253.50 L477.50,253.24 L478.00,253.69 L478.50,253.83 L479.00,253.62 L479.50,253.11 L480.00,253.54 L480.50,253.75 L481.00,252.96 L481.50,254.01 L482.00,254.04 L482.50,253.75 L483.00,253.75 L483.50,253.90 L484.00,252.89 L484.50,253.57 L485.00,253.29 L485.50,253.09 L486.00,253.32 L486.50,253.18 L487.00,253.43 L487.50,253.48 L488.00,253.30 L488.50,253.08 L489.00,253.34 L489.50,253.44 L490.00,253.60 L490.50,253.93 L491.00,253.72 L491.50,254.16 L492.00,254.30 L492.50,253.90 L493.00,254.25 L493.50,254.77 L494.00,255.06 L494.50,254.58 L495.00,255.37 L495.50,255.32 L496.00,255.69 L496.50,256.06 L497.00,256.41 L497.50,256.34 L498.00,256.73 L498.50,256.54 L499.00,256.40 L499.50,256.68 L500.00,257.08 L500.50,256.99 L501.00,256.89 L501.50,257.14 L502.00,257.01 L502.50,257.40 L503.00,256.73 L503.50,257.27 L504.00,257.53 L504.50,257.74 L505.00,257.85 L505.50,257.51 L506.00,257.97 L506.50,257.89 L507.00,258.13 L507.50,258.09 L508.00,258.04 L508.50,258.17 L509.00,258.03 L509.50,258.30 L510.00,258.58 L510.50,258.61 L511.00,258.37 L511.50,258.32 L512.00,258.78 L512.50,258.85 L513.00,258.92 L513.50,258.80 L513.50,270.09 L513.00,270.37 L512.50,270.20 L512.00,269.90 L511.50,269.73 L511.00,269.76 L510.50,269.67 L510.00,269.46 L509.50,269.37 L509.00,269.18 L508.50,269.01 L508.00,268.91 L507.50,268.62 L507.00,268.62 L506.50,268.56 L506.00,268.33 L505.50,268.25 L505.00,268.33 L504.50,268.48 L504.00,267.81 L503.50,268.59 L503.00,267.98 L502.50,267.70 L502.00,267.61 L501.50,267.40 L501.00,267.14 L500.50,267.16 L500.00,267.05 L499.50,267.36 L499.00,266.94 L498.50,266.59 L498.00,266.57 L497.50,266.31 L497.00,266.28 L496.50,266.12 L496.00,266.02 L495.50,266.02 L495.00,265.53 L494.50,265.01 L494.00,265.01 L493.50,264.42 L493.00,264.24 L492.50,264.50 L492.00,264.25 L491.50,263.64 L491.00,263.80 L490.50,263.24 L490.00,263.74 L489.50,263.39 L489.00,263.18 L488.50,262.85 L488.00,262.87 L487.50,262.87 L487.00,262.84 L486.50,262.51 L486.00,262.40 L485.50,262.82 L485.00,262.79 L484.50,263.16 L484.00,263.36 L483.50,263.05 L483.00,263.46 L482.50,263.45 L482.00,263.60 L481.50,263.46 L481.00,263.30 L480.50,263.48 L480.00,263.58 L479.50,263.51 L479.00,263.77 L478.50,263.73 L478.00,263.89 L477.50,263.69 L477.00,263.29 L476.50,263.25 L476.00,263.46 L475.50,263.68 L475.00,263.35 L474.50,263.72 L474.00,263.27 L473.50,263.42 L473.00,263.09 L472.50,263.22 L472.00,262.86 L471.50,263.10 L471.00,263.15 L470.50,263.08 L470.00,262.73 L469.50,263.02 L469.00,262.41 L468.50,262.51 L468.00,262.40 L467.50,262.40 L467.00,262.27 L466.50,262.61 L466.00,262.58 L465.50,262.43 L465.00,261.90 L464.50,261.94 L464.00,262.28 L463.50,261.75 L463.00,262.03 L462.50,261.98 L462.00,261.61 L461.50,262.17 L461.00,261.42 L460.50,261.65 L460.00,261.13 L459.50,261.30 L459.00,260.93 L458.50,261.09 L458.00,261.50 L457.50,260.65 L457.00,260.98 L456.50,260.85 L456.00,260.69 L455.50,260.36 L455.00,260.14 L454.50,260.21 L454.00,259.96 L453.50,260.00 L453.00,260.19 L452.50,259.69 L452.00,259.58 L451.50,259.50 L451.00,259.63 L450.50,259.31 L450.00,259.24 L449.50,259.60 L449.00,259.29 L448.50,259.04 L448.00,259.29 L447.50,258.87 L447.00,259.20 L446.50,258.78 L446.00,258.99 L445.50,258.83 L445.00,258.49 L444.50,258.40 L444.00,258.84 L443.50,258.26 L443.00,258.73 L442.50,258.20 L442.00,257.92 L441.50,258.32 L441.00,258.29 L440.50,257.72 L440.00,257.46 L439.50,257.30 L439.00,256.98 L438.50,256.87 L438.00,256.64 L437.50,256.53 L437.00,256.63 L436.50,256.30 L436.00,255.99 L435.50,256.16 L435.00,255.62 L434.50,255.50 L434.00,256.04 L433.50,255.26 L433.00,254.93 L432.50,254.90 L432.00,254.66 L431.50,254.65 L431.00,254.21 L430.50,253.81 L430.00,253.46 L429.50,253.39 L429.00,253.15 L428.50,252.85 L428.00,252.51 L427.50,252.23 L427.00,252.68 L426.50,251.89 L426.00,251.80 L425.50,251.34 L425.00,251.35 L424.50,251.07 L424.00,251.36 L423.50,250.55 L423.00,250.16 L422.50,250.21 L422.00,249.72 L421.50,249.50 L421.00,249.56 L420.50,248.70 L420.00,248.68 L419.50,248.36 L419.00,247.76 L418.50,247.74 L418.00,247.62 L417.50,247.37 L417.00,246.96 L416.50,246.27 L416.00,246.03 L415.50,246.13 L415.00,245.57 L414.50,245.17 L414.00,245.09 L413.50,244.99 L413.00,244.65 L412.50,244.29 L412.00,244.27 L411.50,243.91 L411.00,243.51 L410.50,243.67 L410.00,243.14 L409.50,243.24 L409.00,242.93 L408.50,242.30 L408.00,242.21 L407.50,241.80 L407.00,241.44 L406.50,241.33 L406.00,241.30 L405.50,240.78 L405.00,240.63 L404.50,240.34 L404.00,240.38 L403.50,240.08 L403.00,240.41 L402.50,240.25 L402.00,239.25 L401.50,239.08 L401.00,239.60 L400.50,239.10 L400.00,238.74 L399.50,238.68 L399.00,238.95 L398.50,238.55 L398.00,238.76 L397.50,238.53 L397.00,238.43 L396.50,238.29 L396.00,237.92 L395.50,237.77 L395.00,237.69 L394.50,237.58 L394.00,237.29 L393.50,237.14 L393.00,236.84 L392.50,236.70 L392.00,236.60 L391.50,236.52 L391.00,236.06 L390.50,236.21 L390.00,236.08 L389.50,235.54 L389.00,235.33 L388.50,235.49 L388.00,235.02 L387.50,235.24 L387.00,235.10 L386.50,234.67 L386.00,234.73 L385.50,234.50 L385.00,234.69Z" fill="#8a8a8a" stroke="none"/>
<polyline points="385.00,233.85 385.50,234.43 386.00,234.34 386.50,234.29 387.00,234.62 387.50,234.41 388.00,235.03 388.50,234.89 389.00,234.92 389.50,235.19 390.00,235.04 390.50,235.48 391.00,235.72 391.50,235.89 392.00,235.98 392.50,235.90 393.00,236.28 393.50,236.19 394.00,236.60 394.50,236.63 395.00,236.77 395.50,237.18 396.00,237.53 396.50,237.59 397.00,237.41 397.50,237.49 398.00,237.47 398.50,237.56 399.00,237.69 399.50,237.75 400.00,237.66 400.50,237.81 401.00,237.73 401.50,237.96 402.00,238.40 402.50,238.59 403.00,238.64 403.50,238.76 404.00,238.96 404.50,239.00 405.00,239.11 405.50,239.55 406.00,239.48 406.50,239.89 407.00,239.83 407.50,240.18 408.00,240.63 408.50,240.66 409.00,240.74 409.50,241.00 410.00,240.92 410.50,241.51 411.00,241.46 411.50,241.67 412.00,241.90 412.50,242.24 413.00,242.34 413.50,242.56 414.00,242.95 414.50,243.13 415.00,243.52 415.50,243.69 416.00,243.99 416.50,243.87 417.00,244.31 417.50,244.62 418.00,244.92 418.50,244.99 419.00,245.38 419.50,245.70 420.00,245.64 420.50,245.89 421.00,246.15 421.50,246.55 422.00,246.60 422.50,247.02 423.00,247.19 423.50,247.34 424.00,247.45 424.50,248.29 425.00,248.36 425.50,248.53 426.00,248.34 426.50,248.91 427.00,248.92 427.50,248.99 428.00,249.29 428.50,249.50 429.00,250.02 429.50,249.99 430.00,250.16 430.50,250.44 431.00,250.64 431.50,250.58 432.00,251.14 432.50,251.19 433.00,251.49 433.50,251.76 434.00,251.61 434.50,252.16 435.00,251.90 435.50,252.03 436.00,251.87 436.50,252.53 437.00,252.41 437.50,252.48 438.00,252.61 438.50,252.90 439.00,253.10 439.50,253.17 440.00,253.15 440.50,253.21 441.00,253.15 441.50,253.46 442.00,253.74 442.50,253.72 443.00,254.17 443.50,254.12 444.00,254.02 444.50,254.22 445.00,254.26 445.50,254.18 446.00,254.33 446.50,254.22 447.00,254.48 447.50,254.76 448.00,254.61 448.50,255.02 449.00,254.80 449.50,255.02 450.00,255.06 450.50,254.96 451.00,254.97 451.50,255.29 452.00,255.43 452.50,255.40 453.00,255.47 453.50,255.16 454.00,255.60 454.50,255.93 455.00,256.06 455.50,256.06 456.00,255.98 456.50,256.34 457.00,256.26 457.50,256.53 458.00,256.73 458.50,256.47 459.00,256.67 459.50,256.86 460.00,256.98 460.50,257.03 461.00,257.24 461.50,257.33 462.00,257.19 462.50,257.33 463.00,257.57 463.50,257.32 464.00,257.46 464.50,257.30 465.00,257.55 465.50,258.04 466.00,258.13 466.50,257.83 467.00,258.22 467.50,258.09 468.00,258.14 468.50,258.13 469.00,258.39 469.50,258.07 470.00,258.57 470.50,258.45 471.00,258.49 471.50,258.29 472.00,258.97 472.50,258.81 473.00,258.79 473.50,258.83 474.00,259.03 474.50,258.88 475.00,259.06 475.50,259.20 476.00,259.04 476.50,259.11 477.00,259.45 477.50,259.20 478.00,259.27 478.50,259.54 479.00,259.83 479.50,259.86 480.00,259.51 480.50,260.03 481.00,259.58 481.50,259.77 482.00,259.92 482.50,259.98 483.00,259.90 483.50,259.78 484.00,259.31 484.50,259.21 485.00,259.34 485.50,259.33 486.00,259.21 486.50,259.11 487.00,259.28 487.50,259.45 488.00,258.94 488.50,259.65 489.00,259.79 489.50,259.71 490.00,259.59 490.50,259.76 491.00,259.86 491.50,260.28 492.00,260.16 492.50,260.40 493.00,260.61 493.50,260.70 494.00,260.82 494.50,260.92 495.00,261.32 495.50,261.77 496.00,262.00 496.50,261.77 497.00,262.16 497.50,262.37 498.00,262.59 498.50,262.50 499.00,262.59 499.50,262.71 500.00,262.85 500.50,262.87 501.00,262.82 501.50,262.98 502.00,263.11 502.50,263.08 503.00,263.22 503.50,263.28 504.00,263.16 504.50,263.74 505.00,263.53 505.50,263.74 506.00,263.98 506.50,263.81 507.00,263.70 507.50,263.89 508.00,263.84 508.50,263.97 509.00,264.20 509.50,264.04 510.00,264.30 510.50,264.32 511.00,264.58 511.50,264.49 512.00,264.61 512.50,264.64 513.00,264.54" fill="none" stroke="#000" stroke-width="1.8" stroke-linejoin="round" stroke-linecap="round" />
<path d="M34.60,419.17 L35.10,419.17 L35.60,418.83 L36.10,419.07 L36.60,419.06 L37.10,418.80 L37.60,418.48 L38.10,418.82 L38.60,418.61 L39.10,418.75 L39.60,418.66 L40.10,418.27 L40.60,418.55 L41.10,418.30 L41.60,418.33 L42.10,418.14 L42.60,418.14 L43.10,417.81 L43.60,417.99 L44.10,418.01 L44.60,417.84 L45.10,417.90 L45.60,417.91 L46.10,417.73 L46.60,417.88 L47.10,417.89 L47.60,417.71 L48.10,417.90 L48.60,417.72 L49.10,417.82 L49.60,417.93 L50.10,418.01 L50.60,418.00 L51.10,418.08 L51.60,418.02 L52.10,417.82 L52.60,417.66 L53.10,418.06 L53.60,417.67 L54.10,418.17 L54.60,417.78 L55.10,418.13 L55.60,417.99 L56.10,418.05 L56.60,417.79 L57.10,418.14 L57.60,418.29 L58.10,418.30 L58.60,418.41 L59.10,418.43 L59.60,418.51 L60.10,418.62 L60.60,418.65 L61.10,418.87 L61.60,418.62 L62.10,418.85 L62.60,419.14 L63.10,419.23 L63.60,419.42 L64.10,419.53 L64.60,419.53 L65.10,419.63 L65.60,419.70 L66.10,419.97 L66.60,419.97 L67.10,420.11 L67.60,419.92 L68.10,420.36 L68.60,420.62 L69.10,420.22 L69.60,420.60 L70.10,420.78 L70.60,420.99 L71.10,421.12 L71.60,420.92 L72.10,421.21 L72.60,421.46 L73.10,421.55 L73.60,421.39 L74.10,421.37 L74.60,421.93 L75.10,421.87 L75.60,422.25 L76.10,422.34 L76.60,422.14 L77.10,422.34 L77.60,422.65 L78.10,422.57 L78.60,422.59 L79.10,422.93 L79.60,423.00 L80.10,423.19 L80.60,423.15 L81.10,423.08 L81.60,423.43 L82.10,423.65 L82.60,423.27 L83.10,423.87 L83.60,423.94 L84.10,423.98 L84.60,424.19 L85.10,424.25 L85.60,424.34 L86.10,424.05 L86.60,424.48 L87.10,424.36 L87.60,424.66 L88.10,424.64 L88.60,424.84 L89.10,424.60 L89.60,424.90 L90.10,425.12 L90.60,425.24 L91.10,425.20 L91.60,425.42 L92.10,425.56 L92.60,425.35 L93.10,425.33 L93.60,425.72 L94.10,425.68 L94.60,425.83 L95.10,425.63 L95.60,425.95 L96.10,425.79 L96.60,425.98 L97.10,426.03 L97.60,426.18 L98.10,426.00 L98.60,426.39 L99.10,426.42 L99.60,426.44 L100.10,425.97 L100.60,426.40 L101.10,426.49 L101.60,426.65 L102.10,426.79 L102.60,426.65 L103.10,426.87 L103.60,426.87 L104.10,426.72 L104.60,426.79 L105.10,427.15 L105.60,426.80 L106.10,427.00 L106.60,427.04 L107.10,427.33 L107.60,427.31 L108.10,427.35 L108.60,427.16 L109.10,427.46 L109.60,427.42 L110.10,427.58 L110.60,427.53 L111.10,427.70 L111.60,427.84 L112.10,427.59 L112.60,427.70 L113.10,427.95 L113.60,427.68 L114.10,427.41 L114.60,428.11 L115.10,428.06 L115.60,428.20 L116.10,427.77 L116.60,428.20 L117.10,428.13 L117.60,428.34 L118.10,428.36 L118.60,428.53 L119.10,428.49 L119.60,428.30 L120.10,428.41 L120.60,428.36 L121.10,428.63 L121.60,428.72 L122.10,428.54 L122.60,428.43 L123.10,428.71 L123.60,428.38 L124.10,428.93 L124.60,428.85 L125.10,428.85 L125.60,428.68 L126.10,429.05 L126.60,429.06 L127.10,429.13 L127.60,428.86 L128.10,429.17 L128.60,429.24 L129.10,429.14 L129.60,429.02 L130.10,429.26 L130.60,429.24 L131.10,429.04 L131.60,429.33 L132.10,429.25 L132.60,429.36 L133.10,429.20 L133.60,429.32 L134.10,429.30 L134.60,429.31 L135.10,429.67 L135.60,429.65 L136.10,429.31 L136.60,429.66 L137.10,429.41 L137.60,429.78 L138.10,429.88 L138.60,429.86 L139.10,429.82 L139.60,429.91 L140.10,429.43 L140.60,429.86 L141.10,430.06 L141.60,429.93 L142.10,429.78 L142.60,430.13 L143.10,430.10 L143.60,429.91 L144.10,430.13 L144.60,430.19 L145.10,430.16 L145.60,430.15 L146.10,430.16 L146.60,430.30 L147.10,429.86 L147.60,429.93 L148.10,430.14 L148.60,430.31 L149.10,430.26 L149.60,430.11 L150.10,430.42 L150.60,430.24 L151.10,430.49 L151.60,430.47 L152.10,430.55 L152.60,430.44 L153.10,430.53 L153.60,430.41 L154.10,430.58 L154.60,430.42 L155.10,430.62 L155.60,430.58 L156.10,430.69 L156.60,430.63 L157.10,430.56 L157.60,430.62 L158.10,430.51 L158.60,430.59 L159.10,430.46 L159.60,430.75 L160.10,430.87 L160.60,430.70 L161.10,430.18 L161.60,430.91 L162.10,430.77 L162.60,430.73 L162.60,440.58 L162.10,440.18 L161.60,440.46 L161.10,440.06 L160.60,440.23 L160.10,440.45 L159.60,440.17 L159.10,439.92 L158.60,439.93 L158.10,440.02 L157.60,440.00 L157.10,439.97 L156.60,440.18 L156.10,439.94 L155.60,440.27 L155.10,439.82 L154.60,439.82 L154.10,439.70 L153.60,439.65 L153.10,439.69 L152.60,439.84 L152.10,439.57 L151.60,439.54 L151.10,439.55 L150.60,439.64 L150.10,439.85 L149.60,439.33 L149.10,439.90 L148.60,439.57 L148.10,439.51 L147.60,439.33 L147.10,439.61 L146.60,439.37 L146.10,439.40 L145.60,439.43 L145.10,439.46 L144.60,439.04 L144.10,439.40 L143.60,439.21 L143.10,439.17 L142.60,438.90 L142.10,438.99 L141.60,439.08 L141.10,438.99 L140.60,438.94 L140.10,438.96 L139.60,438.70 L139.10,439.05 L138.60,438.63 L138.10,438.73 L137.60,438.68 L137.10,438.77 L136.60,438.56 L136.10,438.78 L135.60,438.81 L135.10,438.53 L134.60,438.38 L134.10,438.46 L133.60,438.37 L133.10,438.65 L132.60,438.17 L132.10,438.33 L131.60,438.34 L131.10,438.19 L130.60,438.28 L130.10,438.20 L129.60,437.87 L129.10,438.11 L128.60,437.96 L128.10,438.01 L127.60,437.87 L127.10,437.93 L126.60,437.60 L126.10,437.61 L125.60,437.51 L125.10,437.67 L124.60,437.79 L124.10,437.51 L123.60,437.55 L123.10,437.48 L122.60,437.48 L122.10,437.47 L121.60,437.46 L121.10,437.12 L120.60,437.19 L120.10,437.16 L119.60,437.12 L119.10,437.61 L118.60,437.26 L118.10,436.88 L117.60,436.76 L117.10,436.74 L116.60,437.04 L116.10,436.59 L115.60,436.65 L115.10,436.53 L114.60,436.47 L114.10,436.48 L113.60,436.43 L113.10,436.52 L112.60,436.25 L112.10,436.32 L111.60,436.08 L111.10,436.15 L110.60,436.01 L110.10,436.15 L109.60,436.00 L109.10,436.00 L108.60,435.73 L108.10,436.16 L107.60,435.71 L107.10,435.50 L106.60,435.60 L106.10,435.38 L105.60,435.58 L105.10,435.36 L104.60,435.45 L104.10,435.34 L103.60,435.22 L103.10,435.43 L102.60,435.24 L102.10,434.96 L101.60,435.05 L101.10,434.79 L100.60,434.92 L100.10,434.93 L99.60,434.57 L99.10,434.69 L98.60,434.57 L98.10,434.34 L97.60,434.39 L97.10,434.22 L96.60,434.03 L96.10,433.90 L95.60,434.06 L95.10,434.00 L94.60,433.65 L94.10,433.48 L93.60,433.39 L93.10,433.25 L92.60,433.17 L92.10,433.42 L91.60,432.98 L91.10,432.83 L90.60,433.28 L90.10,432.56 L89.60,432.73 L89.10,432.38 L88.60,432.28 L88.10,432.13 L87.60,432.31 L87.10,432.04 L86.60,432.19 L86.10,431.66 L85.60,431.38 L85.10,431.33 L84.60,431.29 L84.10,431.18 L83.60,431.02 L83.10,430.91 L82.60,431.02 L82.10,430.71 L81.60,430.68 L81.10,430.28 L80.60,430.32 L80.10,429.84 L79.60,429.83 L79.10,430.15 L78.60,429.51 L78.10,429.60 L77.60,429.14 L77.10,428.93 L76.60,429.30 L76.10,428.65 L75.60,428.43 L75.10,428.37 L74.60,428.04 L74.10,428.20 L73.60,427.74 L73.10,427.72 L72.60,427.72 L72.10,427.45 L71.60,427.14 L71.10,427.15 L70.60,427.25 L70.10,426.79 L69.60,426.49 L69.10,426.38 L68.60,426.06 L68.10,426.12 L67.60,425.97 L67.10,425.69 L66.60,425.43 L66.10,425.24 L65.60,425.25 L65.10,425.35 L64.60,425.48 L64.10,424.64 L63.60,424.50 L63.10,424.41 L62.60,424.27 L62.10,423.90 L61.60,423.97 L61.10,423.64 L60.60,423.60 L60.10,423.42 L59.60,423.13 L59.10,423.16 L58.60,423.11 L58.10,423.23 L57.60,422.80 L57.10,422.92 L56.60,422.50 L56.10,422.54 L55.60,422.50 L55.10,422.56 L54.60,422.32 L54.10,422.11 L53.60,422.20 L53.10,422.38 L52.60,422.17 L52.10,421.89 L51.60,421.95 L51.10,422.01 L50.60,421.73 L50.10,421.64 L49.60,421.51 L49.10,421.81 L48.60,421.41 L48.10,421.53 L47.60,421.59 L47.10,421.40 L46.60,421.38 L46.10,421.19 L45.60,421.24 L45.10,420.96 L44.60,420.88 L44.10,421.00 L43.60,420.76 L43.10,420.84 L42.60,420.98 L42.10,420.66 L41.60,420.73 L41.10,420.67 L40.60,420.63 L40.10,420.27 L39.60,420.14 L39.10,420.43 L38.60,420.36 L38.10,419.96 L37.60,420.09 L37.10,419.93 L36.60,419.84 L36.10,419.83 L35.60,419.73 L35.10,419.52 L34.60,419.71Z" fill="#d6d6d6" stroke="none"/>
<polyline points="34.60,419.40 35.10,419.43 35.60,419.45 36.10,419.48 36.60,419.50 37.10,419.53 37.60,419.56 38.10,419.58 38.60,419.61 39.10,419.63 39.60,419.66 40.10,419.69 40.60,419.71 41.10,419.74 41.60,419.76 42.10,419.79 42.60,419.82 43.10,419.84 43.60,419.87 44.10,419.89 44.60,419.92 45.10,419.95 45.60,419.97 46.10,420.00 46.60,420.02 47.10,420.05 47.60,420.08 48.10,420.11 48.60,420.14 49.10,420.16 49.60,420.19 50.10,420.23 50.60,420.26 51.10,420.29 51.60,420.32 52.10,420.35 52.60,420.38 53.10,420.42 53.60,420.45 54.10,420.49 54.60,420.52 55.10,420.56 55.60,420.61 56.10,420.66 56.60,420.71 57.10,420.77 57.60,420.84 58.10,420.91 58.60,420.98 59.10,421.07 59.60,421.15 60.10,421.24 60.60,421.34 61.10,421.44 61.60,421.55 62.10,421.66 62.60,421.78 63.10,421.90 63.60,422.02 64.10,422.14 64.60,422.26 65.10,422.39 65.60,422.51 66.10,422.63 66.60,422.75 67.10,422.87 67.60,423.00 68.10,423.12 68.60,423.24 69.10,423.36 69.60,423.48 70.10,423.61 70.60,423.73 71.10,423.85 71.60,423.97 72.10,424.09 72.60,424.22 73.10,424.34 73.60,424.46 74.10,424.58 74.60,424.71 75.10,424.83 75.60,424.95 76.10,425.07 76.60,425.20 77.10,425.32 77.60,425.44 78.10,425.56 78.60,425.68 79.10,425.80 79.60,425.92 80.10,426.03 80.60,426.15 81.10,426.26 81.60,426.37 82.10,426.48 82.60,426.59 83.10,426.70 83.60,426.81 84.10,426.91 84.60,427.02 85.10,427.12 85.60,427.23 86.10,427.33 86.60,427.43 87.10,427.54 87.60,427.64 88.10,427.74 88.60,427.84 89.10,427.93 89.60,428.03 90.10,428.12 90.60,428.21 91.10,428.30 91.60,428.39 92.10,428.48 92.60,428.57 93.10,428.65 93.60,428.73 94.10,428.81 94.60,428.89 95.10,428.96 95.60,429.03 96.10,429.10 96.60,429.17 97.10,429.24 97.60,429.31 98.10,429.37 98.60,429.44 99.10,429.50 99.60,429.57 100.10,429.63 100.60,429.69 101.10,429.75 101.60,429.81 102.10,429.86 102.60,429.92 103.10,429.97 103.60,430.03 104.10,430.09 104.60,430.14 105.10,430.20 105.60,430.26 106.10,430.31 106.60,430.37 107.10,430.43 107.60,430.48 108.10,430.54 108.60,430.60 109.10,430.65 109.60,430.71 110.10,430.76 110.60,430.82 111.10,430.88 111.60,430.93 112.10,430.99 112.60,431.05 113.10,431.10 113.60,431.16 114.10,431.22 114.60,431.27 115.10,431.33 115.60,431.38 116.10,431.43 116.60,431.48 117.10,431.54 117.60,431.59 118.10,431.63 118.60,431.68 119.10,431.73 119.60,431.77 120.10,431.82 120.60,431.86 121.10,431.91 121.60,431.95 122.10,431.99 122.60,432.03 123.10,432.07 123.60,432.11 124.10,432.14 124.60,432.18 125.10,432.22 125.60,432.26 126.10,432.30 126.60,432.34 127.10,432.38 127.60,432.42 128.10,432.46 128.60,432.50 129.10,432.54 129.60,432.57 130.10,432.61 130.60,432.65 131.10,432.69 131.60,432.73 132.10,432.77 132.60,432.81 133.10,432.85 133.60,432.89 134.10,432.93 134.60,432.96 135.10,433.00 135.60,433.04 136.10,433.08 136.60,433.11 137.10,433.15 137.60,433.18 138.10,433.22 138.60,433.25 139.10,433.28 139.60,433.32 140.10,433.35 140.60,433.38 141.10,433.41 141.60,433.43 142.10,433.46 142.60,433.49 143.10,433.51 143.60,433.54 144.10,433.57 144.60,433.59 145.10,433.62 145.60,433.64 146.10,433.67 146.60,433.69 147.10,433.72 147.60,433.74 148.10,433.77 148.60,433.80 149.10,433.82 149.60,433.85 150.10,433.87 150.60,433.90 151.10,433.92 151.60,433.95 152.10,433.97 152.60,434.00 153.10,434.03 153.60,434.05 154.10,434.08 154.60,434.10 155.10,434.13 155.60,434.15 156.10,434.18 156.60,434.20 157.10,434.23 157.60,434.25 158.10,434.28 158.60,434.31 159.10,434.33 159.60,434.36 160.10,434.38 160.60,434.41 161.10,434.43 161.60,434.46 162.10,434.48" fill="none" stroke="#7a7a7a" stroke-width="1.4" stroke-linejoin="round" stroke-linecap="round" />
<path d="M34.60,419.14 L35.10,419.27 L35.60,419.14 L36.10,418.73 L36.60,419.17 L37.10,419.40 L37.60,419.18 L38.10,419.21 L38.60,419.42 L39.10,419.32 L39.60,419.03 L40.10,419.30 L40.60,419.38 L41.10,419.29 L41.60,419.06 L42.10,419.02 L42.60,419.51 L43.10,419.35 L43.60,419.15 L44.10,418.97 L44.60,419.43 L45.10,419.39 L45.60,419.27 L46.10,419.17 L46.60,418.86 L47.10,419.40 L47.60,419.21 L48.10,419.06 L48.60,419.34 L49.10,419.39 L49.60,418.85 L50.10,419.38 L50.60,419.13 L51.10,418.92 L51.60,419.42 L52.10,419.49 L52.60,419.06 L53.10,419.14 L53.60,419.29 L54.10,419.25 L54.60,419.25 L55.10,419.26 L55.60,419.26 L56.10,418.86 L56.60,419.21 L57.10,418.90 L57.60,419.26 L58.10,418.86 L58.60,418.81 L59.10,418.91 L59.60,418.90 L60.10,418.82 L60.60,418.87 L61.10,418.92 L61.60,418.73 L62.10,418.34 L62.60,418.80 L63.10,418.78 L63.60,418.51 L64.10,418.66 L64.60,418.31 L65.10,418.74 L65.60,418.88 L66.10,418.77 L66.60,418.90 L67.10,418.61 L67.60,418.72 L68.10,418.79 L68.60,419.12 L69.10,419.15 L69.60,418.95 L70.10,418.98 L70.60,419.24 L71.10,419.45 L71.60,419.16 L72.10,419.58 L72.60,419.52 L73.10,419.58 L73.60,419.66 L74.10,419.81 L74.60,419.80 L75.10,419.95 L75.60,419.90 L76.10,420.08 L76.60,420.07 L77.10,420.24 L77.60,420.04 L78.10,420.34 L78.60,420.26 L79.10,420.33 L79.60,420.28 L80.10,420.20 L80.60,420.38 L81.10,420.40 L81.60,420.78 L82.10,420.69 L82.60,420.48 L83.10,420.98 L83.60,421.03 L84.10,420.77 L84.60,420.70 L85.10,421.28 L85.60,421.26 L86.10,421.28 L86.60,420.88 L87.10,421.32 L87.60,421.59 L88.10,421.42 L88.60,421.67 L89.10,421.54 L89.60,421.70 L90.10,421.87 L90.60,421.77 L91.10,421.91 L91.60,421.61 L92.10,421.81 L92.60,422.13 L93.10,422.11 L93.60,422.23 L94.10,422.21 L94.60,422.35 L95.10,422.29 L95.60,421.51 L96.10,422.39 L96.60,422.58 L97.10,422.36 L97.60,422.71 L98.10,422.76 L98.60,422.85 L99.10,422.57 L99.60,422.49 L100.10,422.83 L100.60,422.54 L101.10,423.11 L101.60,423.22 L102.10,423.18 L102.60,423.32 L103.10,423.34 L103.60,423.50 L104.10,423.43 L104.60,423.63 L105.10,423.30 L105.60,423.74 L106.10,423.16 L106.60,423.74 L107.10,423.44 L107.60,423.98 L108.10,423.82 L108.60,424.01 L109.10,423.82 L109.60,423.93 L110.10,424.18 L110.60,424.25 L111.10,424.27 L111.60,424.42 L112.10,424.14 L112.60,424.55 L113.10,424.41 L113.60,424.65 L114.10,424.71 L114.60,424.65 L115.10,423.85 L115.60,424.67 L116.10,424.69 L116.60,424.46 L117.10,424.94 L117.60,424.85 L118.10,425.00 L118.60,424.60 L119.10,424.82 L119.60,425.00 L120.10,425.15 L120.60,424.84 L121.10,425.01 L121.60,425.28 L122.10,424.82 L122.60,424.74 L123.10,425.31 L123.60,424.96 L124.10,424.96 L124.60,425.44 L125.10,424.90 L125.60,425.34 L126.10,425.55 L126.60,425.57 L127.10,425.25 L127.60,425.51 L128.10,425.61 L128.60,425.55 L129.10,425.59 L129.60,425.62 L130.10,425.74 L130.60,425.69 L131.10,425.75 L131.60,425.35 L132.10,425.64 L132.60,425.86 L133.10,425.90 L133.60,426.08 L134.10,426.18 L134.60,426.22 L135.10,426.20 L135.60,425.69 L136.10,426.18 L136.60,426.37 L137.10,426.04 L137.60,426.39 L138.10,425.71 L138.60,426.50 L139.10,426.48 L139.60,426.09 L140.10,426.46 L140.60,426.62 L141.10,426.57 L141.60,426.66 L142.10,426.68 L142.60,426.68 L143.10,426.61 L143.60,426.56 L144.10,426.52 L144.60,426.73 L145.10,426.47 L145.60,426.96 L146.10,426.88 L146.60,426.87 L147.10,426.73 L147.60,427.07 L148.10,426.91 L148.60,426.80 L149.10,427.17 L149.60,426.87 L150.10,426.86 L150.60,426.94 L151.10,427.20 L151.60,427.15 L152.10,427.43 L152.60,427.47 L153.10,427.23 L153.60,427.34 L154.10,427.18 L154.60,427.60 L155.10,427.67 L155.60,427.43 L156.10,427.79 L156.60,427.69 L157.10,427.65 L157.60,427.58 L158.10,427.45 L158.60,427.74 L159.10,427.55 L159.60,427.74 L160.10,428.06 L160.60,428.02 L161.10,428.00 L161.60,427.88 L162.10,427.96 L162.60,428.16 L162.60,434.63 L162.10,434.49 L161.60,434.64 L161.10,434.48 L160.60,434.44 L160.10,434.52 L159.60,434.50 L159.10,434.44 L158.60,434.22 L158.10,434.35 L157.60,434.50 L157.10,434.40 L156.60,434.51 L156.10,434.07 L155.60,433.90 L155.10,434.19 L154.60,434.02 L154.10,433.76 L153.60,433.73 L153.10,433.60 L152.60,434.30 L152.10,433.97 L151.60,433.69 L151.10,433.68 L150.60,433.43 L150.10,433.43 L149.60,433.33 L149.10,433.29 L148.60,433.21 L148.10,433.42 L147.60,433.54 L147.10,433.21 L146.60,433.12 L146.10,433.67 L145.60,433.32 L145.10,433.68 L144.60,433.50 L144.10,432.86 L143.60,433.02 L143.10,432.98 L142.60,433.05 L142.10,432.86 L141.60,432.71 L141.10,432.86 L140.60,432.69 L140.10,432.91 L139.60,432.81 L139.10,432.61 L138.60,432.49 L138.10,432.50 L137.60,432.88 L137.10,432.90 L136.60,432.77 L136.10,432.54 L135.60,432.39 L135.10,432.24 L134.60,432.22 L134.10,432.14 L133.60,432.18 L133.10,432.34 L132.60,432.01 L132.10,432.04 L131.60,432.01 L131.10,432.25 L130.60,431.80 L130.10,432.21 L129.60,431.75 L129.10,431.74 L128.60,432.21 L128.10,431.84 L127.60,431.75 L127.10,431.58 L126.60,431.75 L126.10,431.45 L125.60,431.50 L125.10,431.95 L124.60,432.17 L124.10,431.41 L123.60,431.29 L123.10,431.42 L122.60,431.34 L122.10,431.23 L121.60,431.56 L121.10,431.60 L120.60,431.83 L120.10,431.30 L119.60,431.02 L119.10,431.04 L118.60,430.94 L118.10,431.18 L117.60,430.92 L117.10,431.06 L116.60,430.77 L116.10,431.03 L115.60,430.78 L115.10,431.19 L114.60,430.52 L114.10,430.71 L113.60,430.77 L113.10,430.36 L112.60,430.51 L112.10,430.40 L111.60,430.24 L111.10,430.29 L110.60,430.17 L110.10,430.65 L109.60,430.00 L109.10,429.97 L108.60,430.09 L108.10,429.75 L107.60,429.88 L107.10,429.80 L106.60,429.58 L106.10,429.98 L105.60,429.75 L105.10,429.58 L104.60,429.44 L104.10,429.35 L103.60,429.36 L103.10,429.31 L102.60,429.22 L102.10,429.20 L101.60,429.09 L101.10,428.95 L100.60,428.88 L100.10,428.70 L99.60,428.93 L99.10,428.77 L98.60,428.92 L98.10,428.91 L97.60,428.47 L97.10,428.52 L96.60,428.67 L96.10,428.48 L95.60,427.98 L95.10,427.88 L94.60,427.80 L94.10,427.72 L93.60,427.75 L93.10,428.11 L92.60,427.59 L92.10,427.59 L91.60,427.53 L91.10,427.20 L90.60,427.29 L90.10,427.43 L89.60,427.06 L89.10,426.97 L88.60,427.13 L88.10,426.63 L87.60,426.92 L87.10,426.82 L86.60,426.32 L86.10,426.36 L85.60,426.35 L85.10,426.49 L84.60,426.13 L84.10,425.91 L83.60,426.04 L83.10,425.82 L82.60,425.64 L82.10,425.44 L81.60,425.49 L81.10,425.76 L80.60,425.44 L80.10,425.50 L79.60,425.24 L79.10,425.27 L78.60,425.15 L78.10,424.75 L77.60,424.92 L77.10,424.70 L76.60,424.94 L76.10,424.37 L75.60,424.60 L75.10,424.89 L74.60,423.93 L74.10,424.33 L73.60,424.14 L73.10,423.88 L72.60,423.70 L72.10,423.64 L71.60,423.74 L71.10,423.26 L70.60,423.29 L70.10,423.33 L69.60,423.27 L69.10,423.11 L68.60,422.89 L68.10,422.73 L67.60,422.72 L67.10,422.60 L66.60,422.60 L66.10,422.77 L65.60,423.01 L65.10,422.36 L64.60,422.49 L64.10,422.21 L63.60,422.26 L63.10,422.38 L62.60,422.39 L62.10,422.12 L61.60,422.23 L61.10,422.53 L60.60,422.69 L60.10,422.16 L59.60,422.54 L59.10,422.16 L58.60,422.39 L58.10,422.35 L57.60,422.26 L57.10,422.42 L56.60,422.09 L56.10,422.02 L55.60,422.00 L55.10,421.84 L54.60,421.84 L54.10,421.83 L53.60,421.73 L53.10,421.78 L52.60,422.07 L52.10,421.60 L51.60,422.01 L51.10,421.61 L50.60,421.95 L50.10,421.44 L49.60,421.39 L49.10,422.03 L48.60,421.23 L48.10,421.23 L47.60,421.41 L47.10,421.24 L46.60,421.11 L46.10,421.13 L45.60,420.97 L45.10,421.01 L44.60,420.85 L44.10,421.08 L43.60,420.95 L43.10,420.77 L42.60,420.87 L42.10,420.45 L41.60,420.62 L41.10,420.29 L40.60,420.43 L40.10,420.21 L39.60,420.36 L39.10,420.28 L38.60,420.26 L38.10,420.06 L37.60,419.80 L37.10,420.01 L36.60,419.87 L36.10,420.01 L35.60,419.55 L35.10,419.67 L34.60,419.48Z" fill="#9c9c9c" stroke="none"/>
<polyline points="34.60,419.45 35.10,419.44 35.60,419.36 36.10,419.61 36.60,419.58 37.10,419.62 37.60,419.64 38.10,419.83 38.60,419.80 39.10,419.87 39.60,419.75 40.10,419.77 40.60,419.74 41.10,419.86 41.60,419.64 42.10,420.14 42.60,420.01 43.10,420.04 43.60,420.16 44.10,420.06 44.60,420.16 45.10,420.25 45.60,420.03 46.10,420.41 46.60,420.27 47.10,420.35 47.60,420.20 48.10,420.27 48.60,420.54 49.10,420.33 49.60,420.37 50.10,420.49 50.60,420.61 51.10,420.23 51.60,420.67 52.10,420.56 52.60,420.66 53.10,420.47 53.60,420.63 54.10,420.79 54.60,420.61 55.10,420.57 55.60,420.59 56.10,420.59 56.60,420.73 57.10,420.66 57.60,420.58 58.10,420.71 58.60,420.49 59.10,420.44 59.60,420.85 60.10,420.50 60.60,420.73 61.10,420.53 61.60,420.50 62.10,420.57 62.60,420.40 63.10,420.39 63.60,420.46 64.10,420.44 64.60,420.57 65.10,420.71 65.60,420.40 66.10,420.46 66.60,420.67 67.10,420.68 67.60,420.80 68.10,420.65 68.60,420.85 69.10,420.85 69.60,420.75 70.10,421.04 70.60,420.89 71.10,421.19 71.60,421.15 72.10,421.25 72.60,421.57 73.10,421.57 73.60,421.52 74.10,421.59 74.60,421.53 75.10,421.82 75.60,421.82 76.10,421.73 76.60,421.72 77.10,421.97 77.60,422.02 78.10,422.20 78.60,422.07 79.10,422.16 79.60,422.38 80.10,422.41 80.60,422.58 81.10,422.67 81.60,422.53 82.10,422.45 82.60,422.78 83.10,422.77 83.60,422.95 84.10,422.70 84.60,423.05 85.10,423.14 85.60,423.14 86.10,423.33 86.60,423.35 87.10,423.43 87.60,423.61 88.10,423.68 88.60,423.74 89.10,423.71 89.60,423.75 90.10,423.86 90.60,423.90 91.10,423.85 91.60,424.03 92.10,424.15 92.60,424.07 93.10,424.06 93.60,424.31 94.10,424.23 94.60,424.21 95.10,424.41 95.60,424.34 96.10,424.60 96.60,424.57 97.10,424.71 97.60,424.89 98.10,424.95 98.60,424.89 99.10,424.73 99.60,424.99 100.10,424.99 100.60,425.28 101.10,425.43 101.60,425.41 102.10,425.47 102.60,425.54 103.10,425.63 103.60,425.59 104.10,425.80 104.60,425.74 105.10,425.72 105.60,425.92 106.10,426.16 106.60,426.04 107.10,425.94 107.60,426.34 108.10,426.30 108.60,426.40 109.10,426.36 109.60,426.53 110.10,426.71 110.60,426.54 111.10,426.75 111.60,426.77 112.10,426.71 112.60,426.88 113.10,426.99 113.60,426.90 114.10,427.18 114.60,427.00 115.10,427.31 115.60,427.31 116.10,427.33 116.60,427.28 117.10,427.34 117.60,427.24 118.10,427.53 118.60,427.57 119.10,427.69 119.60,427.79 120.10,427.75 120.60,427.73 121.10,427.92 121.60,427.85 122.10,427.89 122.60,427.80 123.10,428.08 123.60,427.94 124.10,428.25 124.60,427.99 125.10,428.07 125.60,428.17 126.10,428.13 126.60,428.09 127.10,428.16 127.60,428.24 128.10,428.34 128.60,428.52 129.10,428.53 129.60,428.53 130.10,428.63 130.60,428.36 131.10,428.57 131.60,428.63 132.10,428.63 132.60,428.84 133.10,428.76 133.60,428.77 134.10,429.03 134.60,428.91 135.10,429.00 135.60,428.92 136.10,429.22 136.60,429.18 137.10,429.38 137.60,429.50 138.10,429.39 138.60,429.32 139.10,429.32 139.60,429.62 140.10,429.47 140.60,429.60 141.10,429.60 141.60,429.26 142.10,429.67 142.60,429.71 143.10,429.75 143.60,429.76 144.10,429.84 144.60,429.74 145.10,429.95 145.60,429.87 146.10,429.98 146.60,430.18 147.10,430.07 147.60,429.98 148.10,430.18 148.60,430.03 149.10,430.25 149.60,430.43 150.10,430.22 150.60,430.36 151.10,430.34 151.60,430.50 152.10,430.58 152.60,430.62 153.10,430.62 153.60,430.51 154.10,430.67 154.60,430.78 155.10,430.97 155.60,430.72 156.10,431.11 156.60,430.97 157.10,430.93 157.60,431.32 158.10,431.25 158.60,431.17 159.10,431.36 159.60,431.45 160.10,431.29 160.60,431.64 161.10,431.47 161.60,431.70 162.10,431.61" fill="none" stroke="#000" stroke-width="1.8" stroke-linejoin="round" stroke-linecap="round" />
<line x1="24.40" y1="18.30" x2="24.40" y2="141.75" stroke="#262626" stroke-width="0.9"/>
<line x1="21.30" y1="43.30" x2="24.40" y2="43.30" stroke="#262626" stroke-width="0.9"/>
<text x="20.20" y="45.70" text-anchor="end" font-size="6.72" font-weight="normal" fill="#000" >1.0</text>
<line x1="21.30" y1="92.30" x2="24.40" y2="92.30" stroke="#262626" stroke-width="0.9"/>
<text x="20.20" y="94.70" text-anchor="end" font-size="6.72" font-weight="normal" fill="#000" >0.5</text>
<line x1="21.30" y1="141.30" x2="24.40" y2="141.30" stroke="#262626" stroke-width="0.9"/>
<text x="20.20" y="143.70" text-anchor="end" font-size="6.72" font-weight="normal" fill="#000" >0.0</text>
<line x1="23.95" y1="141.30" x2="168.90" y2="141.30" stroke="#262626" stroke-width="0.9"/>
<line x1="35.30" y1="141.30" x2="35.30" y2="144.30" stroke="#555" stroke-width="0.8"/>
<line x1="98.70" y1="141.30" x2="98.70" y2="144.30" stroke="#262626" stroke-width="0.9"/>
<line x1="162.40" y1="141.30" x2="162.40" y2="144.30" stroke="#262626" stroke-width="0.9"/>
<text x="35.30" y="152.50" text-anchor="middle" font-size="6.72" font-weight="normal" fill="#000" >Pre-contraction</text>
<text x="35.30" y="159.90" text-anchor="middle" font-size="6.72" font-weight="normal" fill="#000" >(~60%)</text>
<text x="98.90" y="152.50" text-anchor="middle" font-size="6.72" font-weight="normal" fill="#000" >5</text>
<text x="162.60" y="152.50" text-anchor="middle" font-size="6.72" font-weight="normal" fill="#000" >10</text>
<text x="97.50" y="161.50" text-anchor="middle" font-size="6.72" font-weight="normal" fill="#000" >Time (min)</text>
<text class="r" transform="translate(5.40,80.50) rotate(-90)" text-anchor="middle" font-size="6.72" fill="#000">Relative active tension</text>
<text transform="translate(6.90,14.10) scale(1,1.07)" font-size="16.0" font-weight="bold" fill="#000">A</text>
<text x="29.80" y="115.70" text-anchor="start" font-size="6.72" font-weight="normal" fill="#000" >Coronary septal arteries</text>
<line x1="30.10" y1="123.50" x2="43.30" y2="123.50" stroke="#222" stroke-width="1.0"/>
<rect x="36.00" y="122.60" width="1.8" height="1.8" fill="#000"/>
<line x1="30.10" y1="133.50" x2="43.30" y2="133.50" stroke="#9a9a9a" stroke-width="1.0"/>
<rect x="36.40" y="132.20" width="0.8" height="2.6" fill="#999"/>
<text x="51.10" y="125.40" font-size="6.72" fill="#000">NaCl (10 mM), pH<tspan font-size="4.3" dy="1.5">0</tspan><tspan dy="-1.5" dx="-0.3"> 7.4</tspan></text>
<text x="51.10" y="135.30" font-size="6.72" fill="#000">Na-3-OHB (10 mM), pH<tspan font-size="4.3" dy="1.5">0</tspan><tspan dy="-1.5" dx="-0.3"> 7.4</tspan></text>
<text x="132.70" y="63.20" text-anchor="start" font-size="6.72" font-weight="normal" fill="#000" ><tspan font-style="italic">P</tspan>&lt;0.001</text>
<line x1="374.60" y1="18.20" x2="374.60" y2="141.65" stroke="#262626" stroke-width="0.9"/>
<line x1="371.50" y1="42.60" x2="374.60" y2="42.60" stroke="#262626" stroke-width="0.9"/>
<text x="370.40" y="45.00" text-anchor="end" font-size="6.72" font-weight="normal" fill="#000" >1.0</text>
<line x1="371.50" y1="91.90" x2="374.60" y2="91.90" stroke="#262626" stroke-width="0.9"/>
<text x="370.40" y="94.30" text-anchor="end" font-size="6.72" font-weight="normal" fill="#000" >0.5</text>
<line x1="371.50" y1="141.20" x2="374.60" y2="141.20" stroke="#262626" stroke-width="0.9"/>
<text x="370.40" y="143.60" text-anchor="end" font-size="6.72" font-weight="normal" fill="#000" >0.0</text>
<line x1="374.15" y1="141.20" x2="519.50" y2="141.20" stroke="#262626" stroke-width="0.9"/>
<line x1="385.10" y1="141.20" x2="385.10" y2="144.20" stroke="#555" stroke-width="0.8"/>
<line x1="448.50" y1="141.20" x2="448.50" y2="144.20" stroke="#262626" stroke-width="0.9"/>
<line x1="512.10" y1="141.20" x2="512.10" y2="144.20" stroke="#262626" stroke-width="0.9"/>
<text x="385.10" y="152.80" text-anchor="middle" font-size="6.72" font-weight="normal" fill="#000" >Pre-contraction</text>
<text x="385.10" y="160.10" text-anchor="middle" font-size="6.72" font-weight="normal" fill="#000" >(~60%)</text>
<text x="448.70" y="152.80" text-anchor="middle" font-size="6.72" font-weight="normal" fill="#000" >5</text>
<text x="512.30" y="152.80" text-anchor="middle" font-size="6.72" font-weight="normal" fill="#000" >10</text>
<text x="447.30" y="160.70" text-anchor="middle" font-size="6.72" font-weight="normal" fill="#000" >Time (min)</text>
<text class="r" transform="translate(355.60,80.40) rotate(-90)" text-anchor="middle" font-size="6.72" fill="#000">Relative active tension</text>
<text transform="translate(355.60,13.50) scale(1,1.07)" font-size="15.3" font-weight="bold" fill="#000">C</text>
<text x="380.00" y="113.10" text-anchor="start" font-size="6.72" font-weight="normal" fill="#000" >Caudal femoral arteries</text>
<line x1="380.30" y1="121.50" x2="393.50" y2="121.50" stroke="#222" stroke-width="1.0"/>
<rect x="386.20" y="120.60" width="1.8" height="1.8" fill="#000"/>
<line x1="380.30" y1="132.00" x2="393.50" y2="132.00" stroke="#cfcfcf" stroke-width="2.0"/>
<rect x="386.60" y="130.70" width="0.8" height="2.6" fill="#888"/>
<text x="401.30" y="123.60" font-size="6.72" fill="#000">NaCl (10 mM), pH<tspan font-size="4.3" dy="1.5">0</tspan><tspan dy="-1.5" dx="-0.3"> 7.4</tspan></text>
<text x="401.30" y="133.50" font-size="6.72" fill="#000">Na-3-OHB (10 mM), pH<tspan font-size="4.3" dy="1.5">0</tspan><tspan dy="-1.5" dx="-0.3"> 7.4</tspan></text>
<text x="484.40" y="75.00" text-anchor="start" font-size="6.72" font-weight="normal" fill="#000" ><tspan font-style="italic">P</tspan>&lt;0.001</text>
<line x1="24.50" y1="209.80" x2="24.50" y2="333.35" stroke="#262626" stroke-width="0.9"/>
<line x1="21.40" y1="234.50" x2="24.50" y2="234.50" stroke="#262626" stroke-width="0.9"/>
<text x="20.30" y="236.90" text-anchor="end" font-size="6.72" font-weight="normal" fill="#000" >1.0</text>
<line x1="21.40" y1="283.70" x2="24.50" y2="283.70" stroke="#262626" stroke-width="0.9"/>
<text x="20.30" y="286.10" text-anchor="end" font-size="6.72" font-weight="normal" fill="#000" >0.5</text>
<line x1="21.40" y1="332.90" x2="24.50" y2="332.90" stroke="#262626" stroke-width="0.9"/>
<text x="20.30" y="335.30" text-anchor="end" font-size="6.72" font-weight="normal" fill="#000" >0.0</text>
<line x1="24.05" y1="332.90" x2="168.90" y2="332.90" stroke="#262626" stroke-width="0.9"/>
<line x1="35.30" y1="332.90" x2="35.30" y2="335.90" stroke="#555" stroke-width="0.8"/>
<line x1="98.70" y1="332.90" x2="98.70" y2="335.90" stroke="#262626" stroke-width="0.9"/>
<line x1="162.40" y1="332.90" x2="162.40" y2="335.90" stroke="#262626" stroke-width="0.9"/>
<text x="35.30" y="343.90" text-anchor="middle" font-size="6.72" font-weight="normal" fill="#000" >Pre-contraction</text>
<text x="35.30" y="351.20" text-anchor="middle" font-size="6.72" font-weight="normal" fill="#000" >(~60%)</text>
<text x="98.90" y="343.90" text-anchor="middle" font-size="6.72" font-weight="normal" fill="#000" >5</text>
<text x="162.60" y="343.90" text-anchor="middle" font-size="6.72" font-weight="normal" fill="#000" >10</text>
<text x="97.50" y="351.70" text-anchor="middle" font-size="6.72" font-weight="normal" fill="#000" >Time (min)</text>
<text class="r" transform="translate(5.50,272.05) rotate(-90)" text-anchor="middle" font-size="6.72" fill="#000">Relative active tension</text>
<text transform="translate(6.60,199.40) scale(1,1.07)" font-size="15.3" font-weight="bold" fill="#000">E</text>
<text x="29.90" y="304.90" text-anchor="start" font-size="6.72" font-weight="normal" fill="#000" >Middle cerebral arteries</text>
<line x1="30.20" y1="313.50" x2="43.40" y2="313.50" stroke="#444" stroke-width="1.0"/>
<rect x="36.10" y="312.60" width="1.8" height="1.8" fill="#000"/>
<line x1="30.20" y1="323.50" x2="43.40" y2="323.50" stroke="#a6a6a6" stroke-width="1.0"/>
<rect x="36.50" y="322.20" width="0.8" height="2.6" fill="#999"/>
<text x="51.20" y="314.90" font-size="6.72" fill="#000">NaCl (10 mM), pH<tspan font-size="4.3" dy="1.5">0</tspan><tspan dy="-1.5" dx="-0.3"> 7.4</tspan></text>
<text x="51.20" y="325.30" font-size="6.72" fill="#000">Na-3-OHB (10 mM), pH<tspan font-size="4.3" dy="1.5">0</tspan><tspan dy="-1.5" dx="-0.3"> 7.4</tspan></text>
<text x="133.60" y="234.70" text-anchor="start" font-size="6.72" font-weight="normal" fill="#000" ><tspan font-style="italic">P</tspan>&lt;0.001</text>
<line x1="374.60" y1="209.30" x2="374.60" y2="333.05" stroke="#262626" stroke-width="0.9"/>
<line x1="371.50" y1="234.40" x2="374.60" y2="234.40" stroke="#262626" stroke-width="0.9"/>
<text x="370.40" y="236.80" text-anchor="end" font-size="6.72" font-weight="normal" fill="#000" >1.0</text>
<line x1="371.50" y1="283.50" x2="374.60" y2="283.50" stroke="#262626" stroke-width="0.9"/>
<text x="370.40" y="285.90" text-anchor="end" font-size="6.72" font-weight="normal" fill="#000" >0.5</text>
<line x1="371.50" y1="332.60" x2="374.60" y2="332.60" stroke="#262626" stroke-width="0.9"/>
<text x="370.40" y="335.00" text-anchor="end" font-size="6.72" font-weight="normal" fill="#000" >0.0</text>
<line x1="374.15" y1="332.60" x2="519.50" y2="332.60" stroke="#262626" stroke-width="0.9"/>
<line x1="385.10" y1="332.60" x2="385.10" y2="335.60" stroke="#555" stroke-width="0.8"/>
<line x1="448.50" y1="332.60" x2="448.50" y2="335.60" stroke="#262626" stroke-width="0.9"/>
<line x1="512.10" y1="332.60" x2="512.10" y2="335.60" stroke="#262626" stroke-width="0.9"/>
<text x="385.10" y="343.80" text-anchor="middle" font-size="6.72" font-weight="normal" fill="#000" >Pre-contraction</text>
<text x="385.10" y="351.10" text-anchor="middle" font-size="6.72" font-weight="normal" fill="#000" >(~60%)</text>
<text x="448.70" y="343.80" text-anchor="middle" font-size="6.72" font-weight="normal" fill="#000" >5</text>
<text x="512.30" y="343.80" text-anchor="middle" font-size="6.72" font-weight="normal" fill="#000" >10</text>
<text x="447.30" y="351.70" text-anchor="middle" font-size="6.72" font-weight="normal" fill="#000" >Time (min)</text>
<text class="r" transform="translate(355.60,271.65) rotate(-90)" text-anchor="middle" font-size="6.72" fill="#000">Relative active tension</text>
<text transform="translate(354.60,199.20) scale(1,1.07)" font-size="15.3" font-weight="bold" fill="#000">G</text>
<text x="380.00" y="304.20" text-anchor="start" font-size="6.72" font-weight="normal" fill="#000" >Mesenteric arteries</text>
<line x1="380.30" y1="313.50" x2="393.50" y2="313.50" stroke="#444" stroke-width="1.0"/>
<rect x="386.20" y="312.60" width="1.8" height="1.8" fill="#000"/>
<line x1="380.30" y1="323.50" x2="393.50" y2="323.50" stroke="#b0b0b0" stroke-width="1.0"/>
<rect x="386.60" y="322.20" width="0.8" height="2.6" fill="#999"/>
<text x="401.30" y="314.90" font-size="6.72" fill="#000">NaCl (10 mM), pH<tspan font-size="4.3" dy="1.5">0</tspan><tspan dy="-1.5" dx="-0.3"> 7.4</tspan></text>
<text x="401.30" y="325.30" font-size="6.72" fill="#000">Na-3-OHB (10 mM), pH<tspan font-size="4.3" dy="1.5">0</tspan><tspan dy="-1.5" dx="-0.3"> 7.4</tspan></text>
<text x="484.30" y="248.90" text-anchor="start" font-size="6.72" font-weight="normal" fill="#000" ><tspan font-style="italic">P</tspan>&lt;0.001</text>
<line x1="24.50" y1="394.80" x2="24.50" y2="518.45" stroke="#262626" stroke-width="0.9"/>
<line x1="21.40" y1="419.40" x2="24.50" y2="419.40" stroke="#262626" stroke-width="0.9"/>
<text x="20.30" y="421.80" text-anchor="end" font-size="6.72" font-weight="normal" fill="#000" >1.0</text>
<line x1="21.40" y1="468.70" x2="24.50" y2="468.70" stroke="#262626" stroke-width="0.9"/>
<text x="20.30" y="471.10" text-anchor="end" font-size="6.72" font-weight="normal" fill="#000" >0.5</text>
<line x1="21.40" y1="518.00" x2="24.50" y2="518.00" stroke="#262626" stroke-width="0.9"/>
<text x="20.30" y="520.40" text-anchor="end" font-size="6.72" font-weight="normal" fill="#000" >0.0</text>
<line x1="24.05" y1="518.00" x2="168.90" y2="518.00" stroke="#262626" stroke-width="0.9"/>
<line x1="35.30" y1="518.00" x2="35.30" y2="521.00" stroke="#555" stroke-width="0.8"/>
<line x1="98.70" y1="518.00" x2="98.70" y2="521.00" stroke="#262626" stroke-width="0.9"/>
<line x1="162.40" y1="518.00" x2="162.40" y2="521.00" stroke="#262626" stroke-width="0.9"/>
<text x="35.30" y="528.80" text-anchor="middle" font-size="6.72" font-weight="normal" fill="#000" >Pre-contraction</text>
<text x="35.30" y="536.40" text-anchor="middle" font-size="6.72" font-weight="normal" fill="#000" >(~60%)</text>
<text x="98.90" y="528.80" text-anchor="middle" font-size="6.72" font-weight="normal" fill="#000" >5</text>
<text x="162.60" y="528.80" text-anchor="middle" font-size="6.72" font-weight="normal" fill="#000" >10</text>
<text x="97.50" y="535.30" text-anchor="middle" font-size="6.72" font-weight="normal" fill="#000" >Time (min)</text>
<text class="r" transform="translate(5.50,457.10) rotate(-90)" text-anchor="middle" font-size="6.72" fill="#000">Relative active tension</text>
<text transform="translate(8.20,394.20) scale(1,1.07)" font-size="15.3" font-weight="bold" fill="#000">I</text>
<text x="29.90" y="489.90" text-anchor="start" font-size="6.72" font-weight="normal" fill="#000" >Renal interlobar arteries</text>
<line x1="30.20" y1="498.50" x2="43.40" y2="498.50" stroke="#444" stroke-width="1.0"/>
<rect x="36.10" y="497.60" width="1.8" height="1.8" fill="#000"/>
<line x1="30.20" y1="508.50" x2="43.40" y2="508.50" stroke="#a6a6a6" stroke-width="1.0"/>
<rect x="36.50" y="507.20" width="0.8" height="2.6" fill="#999"/>
<text x="51.20" y="499.90" font-size="6.72" fill="#000">NaCl (10 mM), pH<tspan font-size="4.3" dy="1.5">0</tspan><tspan dy="-1.5" dx="-0.3"> 7.4</tspan></text>
<text x="51.20" y="510.30" font-size="6.72" fill="#000">Na-3-OHB (10 mM), pH<tspan font-size="4.3" dy="1.5">0</tspan><tspan dy="-1.5" dx="-0.3"> 7.4</tspan></text>
<text x="136.40" y="450.40" text-anchor="start" font-size="6.72" font-weight="normal" fill="#000" ><tspan font-style="italic">P</tspan>=0.025</text>
<line x1="209.50" y1="18.20" x2="209.50" y2="140.95" stroke="#262626" stroke-width="0.9"/>
<line x1="204.30" y1="29.40" x2="209.50" y2="29.40" stroke="#262626" stroke-width="0.9"/>
<text x="203.00" y="31.80" text-anchor="end" font-size="6.72" font-weight="normal" fill="#000" >0</text>
<line x1="204.30" y1="84.95" x2="209.50" y2="84.95" stroke="#262626" stroke-width="0.9"/>
<text x="203.00" y="87.35" text-anchor="end" font-size="6.72" font-weight="normal" fill="#000" >50</text>
<line x1="204.30" y1="140.50" x2="209.50" y2="140.50" stroke="#262626" stroke-width="0.9"/>
<text x="203.00" y="142.90" text-anchor="end" font-size="6.72" font-weight="normal" fill="#000" >100</text>
<rect x="217.00" y="29.40" width="15.20" height="8.80" fill="#808080"/>
<line x1="224.50" y1="38.20" x2="224.50" y2="41.50" stroke="#5a5a5a" stroke-width="0.9"/>
<line x1="222.60" y1="41.50" x2="226.40" y2="41.50" stroke="#5a5a5a" stroke-width="0.9"/>
<text class="r" transform="translate(227.10,45.60) rotate(-90)" text-anchor="end" font-size="6.72" fill="#000"><tspan font-style="italic">P</tspan>=0.66</text>
<text x="224.70" y="24.80" text-anchor="middle" font-size="6.72" font-weight="normal" fill="#000" >1</text>
<rect x="240.00" y="29.40" width="15.20" height="26.50" fill="#808080"/>
<line x1="247.50" y1="55.90" x2="247.50" y2="64.50" stroke="#5a5a5a" stroke-width="0.9"/>
<line x1="245.60" y1="64.50" x2="249.40" y2="64.50" stroke="#5a5a5a" stroke-width="0.9"/>
<text class="r" transform="translate(250.10,68.30) rotate(-90)" text-anchor="end" font-size="6.72" fill="#000"><tspan font-style="italic">P</tspan>=0.0034</text>
<text x="247.70" y="24.80" text-anchor="middle" font-size="6.72" font-weight="normal" fill="#000" >3</text>
<rect x="263.00" y="29.40" width="15.20" height="42.30" fill="#808080"/>
<line x1="270.50" y1="71.70" x2="270.50" y2="77.50" stroke="#5a5a5a" stroke-width="0.9"/>
<line x1="268.60" y1="77.50" x2="272.40" y2="77.50" stroke="#5a5a5a" stroke-width="0.9"/>
<text class="r" transform="translate(273.10,82.40) rotate(-90)" text-anchor="end" font-size="6.72" fill="#000"><tspan font-style="italic">P</tspan>&lt;0.001</text>
<text x="270.70" y="24.80" text-anchor="middle" font-size="6.72" font-weight="normal" fill="#000" >6</text>
<rect x="286.00" y="29.40" width="15.20" height="48.60" fill="#808080"/>
<line x1="293.50" y1="78.00" x2="293.50" y2="85.50" stroke="#5a5a5a" stroke-width="0.9"/>
<line x1="291.60" y1="85.50" x2="295.40" y2="85.50" stroke="#5a5a5a" stroke-width="0.9"/>
<text class="r" transform="translate(296.10,90.80) rotate(-90)" text-anchor="end" font-size="6.72" fill="#000"><tspan font-style="italic">P</tspan>&lt;0.001</text>
<text x="293.70" y="24.80" text-anchor="middle" font-size="6.72" font-weight="normal" fill="#000" >10</text>
<rect x="309.00" y="29.40" width="15.20" height="70.40" fill="#808080"/>
<line x1="316.50" y1="99.80" x2="316.50" y2="108.50" stroke="#5a5a5a" stroke-width="0.9"/>
<line x1="314.60" y1="108.50" x2="318.40" y2="108.50" stroke="#5a5a5a" stroke-width="0.9"/>
<text class="r" transform="translate(319.10,113.00) rotate(-90)" text-anchor="end" font-size="6.72" fill="#000"><tspan font-style="italic">P</tspan>&lt;0.001</text>
<text x="316.70" y="24.80" text-anchor="middle" font-size="6.72" font-weight="normal" fill="#000" >20</text>
<line x1="209.50" y1="29.40" x2="332.40" y2="29.40" stroke="#1a1a1a" stroke-width="0.9"/>
<text x="271.70" y="13.80" text-anchor="middle" font-size="6.72" font-weight="normal" fill="#000" >[3-OHB] (mM)</text>
<text class="r" transform="translate(192.20,76.10) rotate(-90)" text-anchor="middle" font-size="6.72" fill="#000">3-OHB-induced vasorelaxation (%)</text>
<text transform="translate(184.30,13.20) scale(1,1.07)" font-size="15.3" font-weight="bold" fill="#000">B</text>
<text x="214.30" y="134.80" text-anchor="start" font-size="6.72" font-weight="normal" fill="#000" >Coronary septal arteries</text>
<line x1="560.30" y1="17.00" x2="560.30" y2="140.85" stroke="#262626" stroke-width="0.9"/>
<line x1="555.80" y1="28.60" x2="560.30" y2="28.60" stroke="#262626" stroke-width="0.9"/>
<text x="554.40" y="31.00" text-anchor="end" font-size="6.72" font-weight="normal" fill="#000" >0</text>
<line x1="555.80" y1="84.50" x2="560.30" y2="84.50" stroke="#262626" stroke-width="0.9"/>
<text x="554.40" y="86.90" text-anchor="end" font-size="6.72" font-weight="normal" fill="#000" >50</text>
<line x1="555.80" y1="140.40" x2="560.30" y2="140.40" stroke="#262626" stroke-width="0.9"/>
<text x="554.40" y="142.80" text-anchor="end" font-size="6.72" font-weight="normal" fill="#000" >100</text>
<rect x="568.60" y="27.50" width="15.20" height="1.10" fill="#555"/>
<line x1="576.50" y1="27.50" x2="576.50" y2="23.50" stroke="#5a5a5a" stroke-width="0.9"/>
<line x1="574.60" y1="23.50" x2="578.40" y2="23.50" stroke="#5a5a5a" stroke-width="0.9"/>
<text class="r" transform="translate(578.70,33.40) rotate(-90)" text-anchor="end" font-size="6.72" fill="#000"><tspan font-style="italic">P</tspan>=0.99</text>
<text x="576.30" y="16.30" text-anchor="middle" font-size="6.72" font-weight="normal" fill="#000" >1</text>
<rect x="591.70" y="28.60" width="15.20" height="10.20" fill="#808080"/>
<line x1="599.50" y1="38.80" x2="599.50" y2="43.50" stroke="#5a5a5a" stroke-width="0.9"/>
<line x1="597.60" y1="43.50" x2="601.40" y2="43.50" stroke="#5a5a5a" stroke-width="0.9"/>
<text class="r" transform="translate(601.80,47.60) rotate(-90)" text-anchor="end" font-size="6.72" fill="#000"><tspan font-style="italic">P</tspan>=0.31</text>
<text x="599.40" y="16.30" text-anchor="middle" font-size="6.72" font-weight="normal" fill="#000" >3</text>
<rect x="614.80" y="28.60" width="15.20" height="15.80" fill="#808080"/>
<line x1="622.50" y1="44.40" x2="622.50" y2="51.50" stroke="#5a5a5a" stroke-width="0.9"/>
<line x1="620.60" y1="51.50" x2="624.40" y2="51.50" stroke="#5a5a5a" stroke-width="0.9"/>
<text class="r" transform="translate(624.90,56.00) rotate(-90)" text-anchor="end" font-size="6.72" fill="#000"><tspan font-style="italic">P</tspan>=0.039</text>
<text x="622.50" y="16.30" text-anchor="middle" font-size="6.72" font-weight="normal" fill="#000" >6</text>
<rect x="638.10" y="28.60" width="15.20" height="26.50" fill="#808080"/>
<line x1="645.50" y1="55.10" x2="645.50" y2="59.50" stroke="#5a5a5a" stroke-width="0.9"/>
<line x1="643.60" y1="59.50" x2="647.40" y2="59.50" stroke="#5a5a5a" stroke-width="0.9"/>
<text class="r" transform="translate(648.20,65.30) rotate(-90)" text-anchor="end" font-size="6.72" fill="#000"><tspan font-style="italic">P</tspan>&lt;0.001</text>
<text x="645.80" y="16.30" text-anchor="middle" font-size="6.72" font-weight="normal" fill="#000" >10</text>
<rect x="661.30" y="28.60" width="15.20" height="45.00" fill="#808080"/>
<line x1="668.50" y1="73.60" x2="668.50" y2="84.50" stroke="#5a5a5a" stroke-width="0.9"/>
<line x1="666.60" y1="84.50" x2="670.40" y2="84.50" stroke="#5a5a5a" stroke-width="0.9"/>
<text class="r" transform="translate(671.40,89.20) rotate(-90)" text-anchor="end" font-size="6.72" fill="#000"><tspan font-style="italic">P</tspan>&lt;0.001</text>
<text x="669.00" y="16.30" text-anchor="middle" font-size="6.72" font-weight="normal" fill="#000" >20</text>
<line x1="560.30" y1="28.60" x2="684.00" y2="28.60" stroke="#1a1a1a" stroke-width="0.9"/>
<text x="621.70" y="5.00" text-anchor="middle" font-size="6.72" font-weight="normal" fill="#000" >[3-OHB] (mM)</text>
<text class="r" transform="translate(542.10,74.50) rotate(-90)" text-anchor="middle" font-size="6.72" fill="#000">3-OHB-induced vasorelaxation (%)</text>
<text transform="translate(534.90,13.20) scale(1,1.07)" font-size="15.3" font-weight="bold" fill="#000">D</text>
<text x="565.90" y="135.70" text-anchor="start" font-size="6.72" font-weight="normal" fill="#000" >Caudal femoral arteries</text>
<line x1="209.40" y1="210.10" x2="209.40" y2="334.65" stroke="#262626" stroke-width="0.9"/>
<line x1="204.20" y1="222.20" x2="209.40" y2="222.20" stroke="#262626" stroke-width="0.9"/>
<text x="202.90" y="224.60" text-anchor="end" font-size="6.72" font-weight="normal" fill="#000" >0</text>
<line x1="204.20" y1="278.20" x2="209.40" y2="278.20" stroke="#262626" stroke-width="0.9"/>
<text x="202.90" y="280.60" text-anchor="end" font-size="6.72" font-weight="normal" fill="#000" >50</text>
<line x1="204.20" y1="334.20" x2="209.40" y2="334.20" stroke="#262626" stroke-width="0.9"/>
<text x="202.90" y="336.60" text-anchor="end" font-size="6.72" font-weight="normal" fill="#000" >100</text>
<rect x="217.10" y="216.20" width="15.20" height="6.00" fill="#808080"/>
<line x1="224.50" y1="216.20" x2="224.50" y2="213.50" stroke="#5a5a5a" stroke-width="0.9"/>
<line x1="222.60" y1="213.50" x2="226.40" y2="213.50" stroke="#5a5a5a" stroke-width="0.9"/>
<text class="r" transform="translate(227.20,227.00) rotate(-90)" text-anchor="end" font-size="6.72" fill="#000"><tspan font-style="italic">P</tspan>=0.57</text>
<text x="224.80" y="209.00" text-anchor="middle" font-size="6.72" font-weight="normal" fill="#000" >1</text>
<rect x="240.30" y="222.00" width="15.20" height="1.40" fill="#4d4d4d"/>
<line x1="247.50" y1="222.60" x2="247.50" y2="227.50" stroke="#5a5a5a" stroke-width="0.9"/>
<line x1="245.60" y1="227.50" x2="249.40" y2="227.50" stroke="#5a5a5a" stroke-width="0.9"/>
<text class="r" transform="translate(250.40,230.20) rotate(-90)" text-anchor="end" font-size="6.72" fill="#000"><tspan font-style="italic">P</tspan>=0.99</text>
<text x="248.00" y="209.00" text-anchor="middle" font-size="6.72" font-weight="normal" fill="#000" >3</text>
<rect x="263.40" y="222.20" width="15.20" height="3.50" fill="#808080"/>
<line x1="271.50" y1="225.70" x2="271.50" y2="230.50" stroke="#5a5a5a" stroke-width="0.9"/>
<line x1="269.60" y1="230.50" x2="273.40" y2="230.50" stroke="#5a5a5a" stroke-width="0.9"/>
<text class="r" transform="translate(273.50,233.70) rotate(-90)" text-anchor="end" font-size="6.72" fill="#000"><tspan font-style="italic">P</tspan>=0.85</text>
<text x="271.10" y="209.00" text-anchor="middle" font-size="6.72" font-weight="normal" fill="#000" >6</text>
<rect x="286.70" y="222.20" width="15.20" height="14.60" fill="#808080"/>
<line x1="294.50" y1="236.80" x2="294.50" y2="240.50" stroke="#5a5a5a" stroke-width="0.9"/>
<line x1="292.60" y1="240.50" x2="296.40" y2="240.50" stroke="#5a5a5a" stroke-width="0.9"/>
<text class="r" transform="translate(296.80,243.70) rotate(-90)" text-anchor="end" font-size="6.72" fill="#000"><tspan font-style="italic">P</tspan>=0.0054</text>
<text x="294.40" y="209.00" text-anchor="middle" font-size="6.72" font-weight="normal" fill="#000" >10</text>
<rect x="309.50" y="222.20" width="15.20" height="25.30" fill="#808080"/>
<line x1="317.50" y1="247.50" x2="317.50" y2="252.50" stroke="#5a5a5a" stroke-width="0.9"/>
<line x1="315.60" y1="252.50" x2="319.40" y2="252.50" stroke="#5a5a5a" stroke-width="0.9"/>
<text class="r" transform="translate(319.60,257.00) rotate(-90)" text-anchor="end" font-size="6.72" fill="#000"><tspan font-style="italic">P</tspan>&lt;0.001</text>
<text x="317.20" y="209.00" text-anchor="middle" font-size="6.72" font-weight="normal" fill="#000" >20</text>
<line x1="209.40" y1="222.20" x2="333.40" y2="222.20" stroke="#1a1a1a" stroke-width="0.9"/>
<text x="270.60" y="198.60" text-anchor="middle" font-size="6.72" font-weight="normal" fill="#000" >[3-OHB] (mM)</text>
<text class="r" transform="translate(192.10,268.30) rotate(-90)" text-anchor="middle" font-size="6.72" fill="#000">3-OHB-induced vasorelaxation (%)</text>
<text transform="translate(185.00,198.80) scale(1,1.07)" font-size="15.3" font-weight="bold" fill="#000">F</text>
<text x="214.50" y="328.60" text-anchor="start" font-size="6.72" font-weight="normal" fill="#000" >Middle cerebral arteries</text>
<line x1="560.20" y1="210.10" x2="560.20" y2="334.95" stroke="#262626" stroke-width="0.9"/>
<line x1="555.70" y1="222.20" x2="560.20" y2="222.20" stroke="#262626" stroke-width="0.9"/>
<text x="554.30" y="224.60" text-anchor="end" font-size="6.72" font-weight="normal" fill="#000" >0</text>
<line x1="555.70" y1="278.35" x2="560.20" y2="278.35" stroke="#262626" stroke-width="0.9"/>
<text x="554.30" y="280.75" text-anchor="end" font-size="6.72" font-weight="normal" fill="#000" >50</text>
<line x1="555.70" y1="334.50" x2="560.20" y2="334.50" stroke="#262626" stroke-width="0.9"/>
<text x="554.30" y="336.90" text-anchor="end" font-size="6.72" font-weight="normal" fill="#000" >100</text>
<rect x="568.60" y="218.00" width="15.20" height="4.20" fill="#808080"/>
<line x1="576.50" y1="218.00" x2="576.50" y2="213.50" stroke="#5a5a5a" stroke-width="0.9"/>
<line x1="574.60" y1="213.50" x2="578.40" y2="213.50" stroke="#5a5a5a" stroke-width="0.9"/>
<text class="r" transform="translate(578.70,226.00) rotate(-90)" text-anchor="end" font-size="6.72" fill="#000"><tspan font-style="italic">P</tspan>=0.82</text>
<text x="576.30" y="207.20" text-anchor="middle" font-size="6.72" font-weight="normal" fill="#000" >1</text>
<rect x="591.80" y="222.00" width="15.20" height="1.40" fill="#4d4d4d"/>
<line x1="599.50" y1="222.60" x2="599.50" y2="229.50" stroke="#5a5a5a" stroke-width="0.9"/>
<line x1="597.60" y1="229.50" x2="601.40" y2="229.50" stroke="#5a5a5a" stroke-width="0.9"/>
<text class="r" transform="translate(601.90,233.20) rotate(-90)" text-anchor="end" font-size="6.72" fill="#000"><tspan font-style="italic">P</tspan>=0.99</text>
<text x="599.50" y="207.20" text-anchor="middle" font-size="6.72" font-weight="normal" fill="#000" >3</text>
<rect x="615.00" y="222.20" width="15.20" height="3.20" fill="#808080"/>
<line x1="622.50" y1="225.40" x2="622.50" y2="228.50" stroke="#5a5a5a" stroke-width="0.9"/>
<line x1="620.60" y1="228.50" x2="624.40" y2="228.50" stroke="#5a5a5a" stroke-width="0.9"/>
<text class="r" transform="translate(625.10,232.70) rotate(-90)" text-anchor="end" font-size="6.72" fill="#000"><tspan font-style="italic">P</tspan>=0.88</text>
<text x="622.70" y="207.20" text-anchor="middle" font-size="6.72" font-weight="normal" fill="#000" >6</text>
<rect x="638.30" y="222.20" width="15.20" height="12.20" fill="#808080"/>
<line x1="645.50" y1="234.40" x2="645.50" y2="237.50" stroke="#5a5a5a" stroke-width="0.9"/>
<line x1="643.60" y1="237.50" x2="647.40" y2="237.50" stroke="#5a5a5a" stroke-width="0.9"/>
<text class="r" transform="translate(648.40,241.90) rotate(-90)" text-anchor="end" font-size="6.72" fill="#000"><tspan font-style="italic">P</tspan>=0.012</text>
<text x="646.00" y="207.20" text-anchor="middle" font-size="6.72" font-weight="normal" fill="#000" >10</text>
<rect x="661.60" y="222.20" width="15.20" height="20.50" fill="#808080"/>
<line x1="669.50" y1="242.70" x2="669.50" y2="246.50" stroke="#5a5a5a" stroke-width="0.9"/>
<line x1="667.60" y1="246.50" x2="671.40" y2="246.50" stroke="#5a5a5a" stroke-width="0.9"/>
<text class="r" transform="translate(671.70,251.20) rotate(-90)" text-anchor="end" font-size="6.72" fill="#000"><tspan font-style="italic">P</tspan>&lt;0.001</text>
<text x="669.30" y="207.20" text-anchor="middle" font-size="6.72" font-weight="normal" fill="#000" >20</text>
<line x1="560.20" y1="222.20" x2="684.00" y2="222.20" stroke="#1a1a1a" stroke-width="0.9"/>
<text x="622.00" y="196.30" text-anchor="middle" font-size="6.72" font-weight="normal" fill="#000" >[3-OHB] (mM)</text>
<text class="r" transform="translate(542.00,267.60) rotate(-90)" text-anchor="middle" font-size="6.72" fill="#000">3-OHB-induced vasorelaxation (%)</text>
<text transform="translate(537.00,198.80) scale(1,1.07)" font-size="15.3" font-weight="bold" fill="#000">H</text>
<text x="565.90" y="328.90" text-anchor="start" font-size="6.72" font-weight="normal" fill="#000" >Mesenteric arteries</text>
</svg>
</body></html>
